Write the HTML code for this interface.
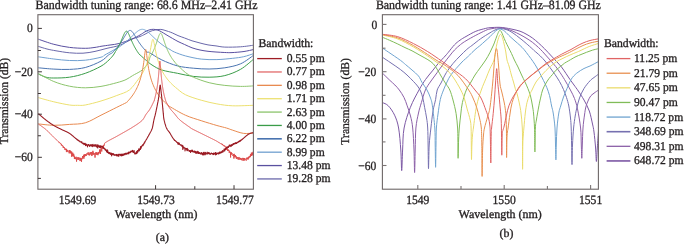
<!DOCTYPE html><html><head><meta charset="utf-8"><style>html,body{margin:0;padding:0;background:#fff;}svg{display:block;will-change:transform;}text{font-family:"Liberation Serif",serif;fill:#231f20;stroke:#231f20;stroke-width:0.32px;text-rendering:geometricPrecision;}</style></head><body>
<svg width="685" height="244" viewBox="0 0 685 244">
<rect width="685" height="244" fill="#fff"/>
<defs><clipPath id="ca"><rect x="37.90" y="14.70" width="215.50" height="174.50"/></clipPath>
<clipPath id="cb"><rect x="382.5" y="14.7" width="216.10" height="174.30"/></clipPath></defs>
<g clip-path="url(#ca)" fill="none" stroke-linejoin="round">
<path d="M38.30,46.40 C39.75,46.83 44.05,48.27 47.00,49.00 C49.95,49.73 52.23,50.17 56.00,50.80 C59.77,51.43 65.10,52.40 69.60,52.80 C74.10,53.20 78.77,53.43 83.00,53.20 C87.23,52.97 91.00,52.22 95.00,51.40 C99.00,50.58 102.90,49.32 107.00,48.30 C111.10,47.28 115.45,46.82 119.60,45.30 C123.75,43.78 128.50,40.67 131.90,39.20 C135.30,37.73 137.82,37.33 140.00,36.50 C142.18,35.67 143.33,35.03 145.00,34.20 C146.67,33.37 148.33,32.20 150.00,31.50 C151.67,30.80 153.20,30.35 155.00,30.00 C156.80,29.65 159.13,29.33 160.80,29.40 C162.47,29.47 163.72,30.05 165.00,30.40 C166.28,30.75 167.28,31.08 168.50,31.50 C169.72,31.92 170.72,32.22 172.30,32.90 C173.88,33.58 175.95,34.75 178.00,35.60 C180.05,36.45 182.27,37.13 184.60,38.00 C186.93,38.87 189.43,39.97 192.00,40.80 C194.57,41.63 197.33,42.32 200.00,43.00 C202.67,43.68 205.33,44.42 208.00,44.90 C210.67,45.38 213.20,45.53 216.00,45.90 C218.80,46.27 220.70,46.95 224.80,47.10 C228.90,47.25 235.78,47.12 240.60,46.80 C245.42,46.48 251.52,45.47 253.70,45.20" stroke="#6a68aa" stroke-width="1.00"/>
<path d="M38.30,39.20 C40.88,40.05 48.60,42.93 53.80,44.30 C59.00,45.67 64.25,46.73 69.50,47.40 C74.75,48.07 81.05,48.30 85.30,48.30 C89.55,48.30 92.38,47.73 95.00,47.40 C97.62,47.07 98.50,46.70 101.00,46.30 C103.50,45.90 106.90,45.48 110.00,45.00 C113.10,44.52 115.95,44.40 119.60,43.40 C123.25,42.40 128.50,40.40 131.90,39.00 C135.30,37.60 137.82,36.20 140.00,35.00 C142.18,33.80 143.50,32.63 145.00,31.80 C146.50,30.97 147.58,30.42 149.00,30.00 C150.42,29.58 152.00,29.27 153.50,29.30 C155.00,29.33 156.62,29.75 158.00,30.20 C159.38,30.65 160.47,31.27 161.80,32.00 C163.13,32.73 164.25,33.55 166.00,34.60 C167.75,35.65 170.30,37.15 172.30,38.30 C174.30,39.45 175.95,40.47 178.00,41.50 C180.05,42.53 182.27,43.45 184.60,44.50 C186.93,45.55 189.43,46.88 192.00,47.80 C194.57,48.72 197.33,49.42 200.00,50.00 C202.67,50.58 205.33,50.97 208.00,51.30 C210.67,51.63 213.20,51.80 216.00,52.00 C218.80,52.20 222.13,52.40 224.80,52.50 C227.47,52.60 228.80,52.77 232.00,52.60 C235.20,52.43 240.38,52.02 244.00,51.50 C247.62,50.98 252.08,49.83 253.70,49.50" stroke="#5a50a0" stroke-width="1.00"/>
<path d="M38.30,56.80 C40.88,57.17 48.60,58.38 53.80,59.00 C59.00,59.62 64.25,60.30 69.50,60.50 C74.75,60.70 80.05,60.75 85.30,60.20 C90.55,59.65 97.75,58.07 101.00,57.20 C104.25,56.33 102.97,56.03 104.80,55.00 C106.63,53.97 109.53,52.38 112.00,51.00 C114.47,49.62 118.16,47.55 119.60,46.72 C121.04,45.88 120.29,46.23 120.64,45.99 C120.98,45.74 121.32,45.50 121.65,45.25 C121.99,45.00 122.32,44.75 122.65,44.50 C122.97,44.25 123.30,44.00 123.62,43.75 C123.94,43.50 124.25,43.24 124.57,42.99 C124.88,42.74 125.19,42.48 125.50,42.23 C125.80,41.98 126.10,41.72 126.40,41.47 C126.70,41.21 126.99,40.96 127.28,40.70 C127.57,40.45 127.86,40.19 128.14,39.94 C128.43,39.68 128.71,39.43 128.98,39.18 C129.26,38.93 129.53,38.68 129.80,38.43 C130.07,38.18 130.33,37.93 130.59,37.68 C130.85,37.44 131.11,37.19 131.36,36.95 C131.61,36.71 131.86,36.47 132.10,36.24 C132.35,36.00 132.59,35.77 132.83,35.54 C133.06,35.32 133.30,35.09 133.53,34.87 C133.75,34.66 133.98,34.44 134.20,34.23 C134.42,34.02 134.64,33.82 134.85,33.62 C135.06,33.43 135.27,33.23 135.48,33.05 C135.68,32.86 135.88,32.68 136.08,32.51 C136.28,32.34 136.47,32.18 136.66,32.02 C136.84,31.86 137.03,31.71 137.21,31.57 C137.39,31.43 137.56,31.29 137.73,31.17 C137.91,31.04 138.07,30.92 138.23,30.81 C138.40,30.70 138.56,30.59 138.71,30.50 C138.86,30.40 139.01,30.31 139.16,30.23 C139.30,30.15 139.44,30.07 139.58,30.01 C139.72,29.94 139.85,29.88 139.97,29.82 C140.10,29.77 140.22,29.72 140.34,29.67 C140.46,29.63 140.57,29.59 140.68,29.56 C140.79,29.52 140.89,29.49 140.99,29.47 C141.09,29.44 141.18,29.42 141.27,29.40 C141.36,29.39 141.44,29.37 141.52,29.36 C141.60,29.35 141.67,29.34 141.74,29.33 C141.80,29.32 141.87,29.32 141.92,29.31 C141.98,29.31 142.03,29.31 142.08,29.30 C142.12,29.30 142.16,29.30 142.19,29.30 C142.22,29.30 142.25,29.30 142.27,29.30 C142.29,29.30 142.29,29.30 142.30,29.30 C142.31,29.30 142.31,29.30 142.33,29.30 C142.35,29.30 142.38,29.30 142.41,29.30 C142.44,29.30 142.48,29.30 142.52,29.30 C142.57,29.31 142.62,29.31 142.68,29.31 C142.73,29.32 142.80,29.32 142.86,29.33 C142.93,29.34 143.00,29.35 143.08,29.36 C143.16,29.37 143.24,29.39 143.33,29.40 C143.42,29.42 143.51,29.44 143.61,29.47 C143.71,29.49 143.81,29.52 143.92,29.56 C144.03,29.59 144.14,29.63 144.26,29.67 C144.38,29.72 144.50,29.77 144.63,29.82 C144.75,29.88 144.88,29.94 145.02,30.01 C145.16,30.07 145.30,30.15 145.44,30.23 C145.59,30.31 145.74,30.40 145.89,30.50 C146.04,30.59 146.20,30.70 146.37,30.81 C146.53,30.92 146.69,31.04 146.87,31.17 C147.04,31.29 147.21,31.43 147.39,31.57 C147.57,31.71 147.76,31.86 147.94,32.02 C148.13,32.18 148.32,32.34 148.52,32.51 C148.72,32.68 148.92,32.86 149.12,33.05 C149.33,33.23 149.54,33.43 149.75,33.62 C149.96,33.82 150.18,34.02 150.40,34.23 C150.62,34.44 150.85,34.66 151.07,34.87 C151.30,35.09 151.54,35.32 151.77,35.54 C152.01,35.77 152.25,36.00 152.50,36.24 C152.74,36.47 152.99,36.71 153.24,36.95 C153.49,37.19 153.75,37.44 154.01,37.68 C154.27,37.93 154.53,38.18 154.80,38.43 C155.07,38.68 155.34,38.93 155.62,39.18 C155.89,39.43 156.17,39.68 156.46,39.94 C156.74,40.19 157.03,40.45 157.32,40.70 C157.61,40.96 157.90,41.21 158.20,41.47 C158.50,41.72 158.80,41.98 159.10,42.23 C159.41,42.48 159.72,42.74 160.03,42.99 C160.35,43.24 160.66,43.50 160.98,43.75 C161.30,44.00 161.63,44.25 161.95,44.50 C162.28,44.75 162.61,45.00 162.95,45.25 C163.28,45.50 163.62,45.74 163.96,45.99 C164.31,46.23 163.99,46.13 165.00,46.72 C166.01,47.30 168.43,48.62 170.00,49.50 C171.57,50.38 171.83,50.93 174.40,52.00 C176.97,53.07 180.93,54.72 185.40,55.90 C189.87,57.08 195.95,58.48 201.20,59.10 C206.45,59.72 211.65,59.73 216.90,59.60 C222.15,59.47 228.23,58.78 232.70,58.30 C237.17,57.82 240.20,57.48 243.70,56.70 C247.20,55.92 252.03,54.12 253.70,53.60" stroke="#70a0d0" stroke-width="1.00"/>
<path d="M38.30,67.80 C40.88,68.02 48.60,68.83 53.80,69.10 C59.00,69.37 64.25,69.67 69.50,69.40 C74.75,69.13 80.05,68.88 85.30,67.50 C90.55,66.12 97.13,63.18 101.00,61.10 C104.87,59.02 106.67,56.34 108.50,55.00 C110.33,53.66 111.28,53.49 112.00,53.04 C112.72,52.58 112.55,52.51 112.82,52.24 C113.09,51.98 113.36,51.71 113.63,51.44 C113.89,51.17 114.16,50.89 114.42,50.62 C114.67,50.34 114.93,50.07 115.19,49.79 C115.44,49.51 115.69,49.23 115.94,48.94 C116.19,48.66 116.43,48.37 116.67,48.08 C116.92,47.79 117.16,47.50 117.39,47.21 C117.63,46.92 117.86,46.63 118.09,46.33 C118.32,46.04 118.55,45.74 118.78,45.44 C119.00,45.14 119.22,44.84 119.44,44.54 C119.66,44.24 119.87,43.94 120.09,43.63 C120.30,43.33 120.51,43.03 120.71,42.72 C120.92,42.42 121.12,42.11 121.32,41.81 C121.52,41.51 121.72,41.20 121.92,40.90 C122.11,40.60 122.30,40.30 122.49,40.00 C122.68,39.70 122.86,39.40 123.04,39.11 C123.22,38.81 123.40,38.52 123.58,38.23 C123.75,37.94 123.92,37.65 124.09,37.37 C124.26,37.09 124.43,36.82 124.59,36.55 C124.75,36.28 124.91,36.01 125.07,35.76 C125.22,35.50 125.38,35.25 125.52,35.01 C125.67,34.76 125.82,34.53 125.96,34.30 C126.10,34.08 126.24,33.86 126.38,33.66 C126.52,33.45 126.65,33.25 126.78,33.07 C126.91,32.88 127.03,32.71 127.15,32.54 C127.28,32.38 127.39,32.23 127.51,32.08 C127.62,31.94 127.74,31.81 127.84,31.69 C127.95,31.57 128.05,31.46 128.16,31.36 C128.26,31.26 128.35,31.17 128.45,31.09 C128.54,31.01 128.63,30.94 128.71,30.88 C128.80,30.82 128.88,30.76 128.96,30.72 C129.04,30.67 129.11,30.63 129.18,30.60 C129.25,30.56 129.32,30.54 129.38,30.51 C129.44,30.49 129.50,30.47 129.55,30.46 C129.61,30.44 129.66,30.43 129.70,30.43 C129.75,30.42 129.79,30.41 129.82,30.41 C129.86,30.41 129.89,30.40 129.91,30.40 C129.94,30.40 129.96,30.40 129.98,30.40 C129.99,30.40 129.99,30.40 130.00,30.40 C130.01,30.40 130.01,30.40 130.02,30.40 C130.04,30.40 130.06,30.40 130.08,30.40 C130.11,30.40 130.14,30.40 130.17,30.41 C130.21,30.41 130.24,30.42 130.29,30.42 C130.33,30.43 130.38,30.44 130.43,30.45 C130.48,30.47 130.54,30.48 130.60,30.50 C130.65,30.53 130.72,30.55 130.79,30.58 C130.85,30.61 130.92,30.65 131.00,30.69 C131.07,30.74 131.15,30.78 131.24,30.84 C131.32,30.90 131.40,30.97 131.49,31.04 C131.58,31.12 131.68,31.20 131.77,31.29 C131.87,31.38 131.97,31.49 132.07,31.60 C132.18,31.71 132.28,31.83 132.39,31.97 C132.51,32.10 132.62,32.24 132.74,32.40 C132.85,32.55 132.97,32.72 133.10,32.89 C133.22,33.06 133.35,33.25 133.48,33.44 C133.61,33.64 133.74,33.84 133.88,34.06 C134.02,34.27 134.16,34.49 134.30,34.72 C134.44,34.95 134.59,35.19 134.74,35.44 C134.89,35.68 135.04,35.94 135.20,36.20 C135.36,36.46 135.51,36.72 135.68,36.99 C135.84,37.26 136.00,37.54 136.17,37.82 C136.34,38.09 136.51,38.38 136.69,38.66 C136.86,38.95 137.04,39.24 137.22,39.53 C137.40,39.82 137.58,40.11 137.77,40.41 C137.96,40.70 138.15,41.00 138.34,41.30 C138.53,41.59 138.73,41.89 138.92,42.19 C139.12,42.48 139.32,42.78 139.53,43.08 C139.73,43.38 139.94,43.67 140.15,43.97 C140.36,44.26 140.57,44.56 140.79,44.85 C141.00,45.15 141.22,45.44 141.44,45.73 C141.67,46.02 141.89,46.31 142.12,46.60 C142.34,46.89 142.57,47.17 142.81,47.46 C143.04,47.74 143.28,48.03 143.51,48.31 C143.75,48.59 143.99,48.87 144.24,49.14 C144.48,49.42 144.73,49.69 144.98,49.97 C145.23,50.24 145.48,50.51 145.74,50.78 C145.99,51.05 146.25,51.31 146.51,51.58 C146.77,51.84 146.85,52.21 147.30,52.36 C147.75,52.52 146.78,51.24 149.20,52.50 C151.62,53.76 157.08,57.67 161.80,59.90 C166.52,62.13 172.25,64.52 177.50,65.90 C182.75,67.28 188.03,67.68 193.30,68.20 C198.57,68.72 203.85,69.07 209.10,69.00 C214.35,68.93 219.55,68.67 224.80,67.80 C230.05,66.93 235.78,65.90 240.60,63.80 C245.42,61.70 251.52,56.63 253.70,55.20" stroke="#4a74b0" stroke-width="1.00"/>
<path d="M38.30,74.00 C39.57,74.53 43.32,76.53 45.90,77.20 C48.48,77.87 49.87,78.00 53.80,78.00 C57.73,78.00 64.25,77.98 69.50,77.20 C74.75,76.42 80.05,75.13 85.30,73.30 C90.55,71.47 97.05,68.43 101.00,66.20 C104.95,63.97 106.93,61.77 109.00,59.90 C111.07,58.03 112.33,56.38 113.40,55.00 C114.47,53.62 114.98,52.33 115.40,51.64 C115.82,50.95 115.74,51.13 115.90,50.87 C116.07,50.61 116.23,50.35 116.39,50.09 C116.56,49.83 116.72,49.56 116.88,49.30 C117.03,49.03 117.19,48.76 117.35,48.49 C117.50,48.22 117.66,47.95 117.81,47.68 C117.96,47.41 118.11,47.13 118.26,46.85 C118.40,46.58 118.55,46.30 118.70,46.02 C118.84,45.75 118.98,45.47 119.12,45.19 C119.26,44.91 119.40,44.62 119.54,44.34 C119.68,44.06 119.81,43.78 119.95,43.49 C120.08,43.21 120.21,42.93 120.34,42.65 C120.47,42.36 120.60,42.08 120.73,41.80 C120.85,41.52 120.98,41.24 121.10,40.96 C121.22,40.68 121.34,40.40 121.46,40.13 C121.58,39.85 121.69,39.58 121.81,39.31 C121.92,39.04 122.04,38.77 122.15,38.50 C122.26,38.24 122.37,37.98 122.48,37.72 C122.58,37.47 122.69,37.22 122.79,36.97 C122.89,36.72 122.99,36.48 123.09,36.25 C123.19,36.02 123.29,35.79 123.39,35.57 C123.48,35.35 123.57,35.13 123.66,34.93 C123.76,34.72 123.85,34.53 123.93,34.34 C124.02,34.15 124.10,33.97 124.19,33.80 C124.27,33.63 124.35,33.47 124.43,33.32 C124.51,33.17 124.59,33.03 124.66,32.89 C124.73,32.76 124.81,32.64 124.88,32.52 C124.95,32.41 125.02,32.30 125.08,32.21 C125.15,32.11 125.21,32.03 125.27,31.95 C125.33,31.87 125.39,31.80 125.45,31.74 C125.51,31.67 125.56,31.62 125.61,31.57 C125.67,31.52 125.72,31.48 125.76,31.44 C125.81,31.41 125.86,31.38 125.90,31.35 C125.94,31.33 125.98,31.31 126.02,31.29 C126.06,31.27 126.09,31.26 126.13,31.25 C126.16,31.23 126.19,31.23 126.22,31.22 C126.24,31.21 126.27,31.21 126.29,31.21 C126.31,31.20 126.33,31.20 126.35,31.20 C126.36,31.20 126.38,31.20 126.38,31.20 C126.39,31.20 126.39,31.20 126.40,31.20 C126.41,31.20 126.41,31.20 126.42,31.20 C126.43,31.20 126.44,31.20 126.46,31.20 C126.48,31.20 126.50,31.21 126.52,31.21 C126.55,31.21 126.58,31.22 126.61,31.23 C126.64,31.24 126.67,31.24 126.71,31.26 C126.75,31.27 126.79,31.29 126.83,31.31 C126.88,31.34 126.92,31.36 126.97,31.40 C127.02,31.43 127.07,31.47 127.13,31.52 C127.18,31.57 127.24,31.62 127.30,31.68 C127.36,31.75 127.42,31.82 127.49,31.90 C127.55,31.98 127.62,32.07 127.69,32.17 C127.76,32.27 127.83,32.38 127.91,32.50 C127.99,32.62 128.06,32.76 128.14,32.90 C128.22,33.04 128.31,33.20 128.39,33.36 C128.48,33.53 128.57,33.71 128.66,33.89 C128.75,34.08 128.84,34.28 128.93,34.48 C129.03,34.69 129.13,34.91 129.23,35.14 C129.33,35.36 129.43,35.60 129.53,35.84 C129.64,36.09 129.74,36.34 129.85,36.60 C129.96,36.86 130.07,37.12 130.19,37.39 C130.30,37.66 130.42,37.94 130.53,38.22 C130.65,38.51 130.77,38.79 130.90,39.08 C131.02,39.37 131.14,39.67 131.27,39.96 C131.40,40.26 131.53,40.56 131.66,40.86 C131.79,41.16 131.92,41.46 132.06,41.77 C132.19,42.07 132.33,42.37 132.47,42.68 C132.61,42.98 132.76,43.29 132.90,43.59 C133.04,43.90 133.19,44.20 133.34,44.51 C133.49,44.81 133.64,45.11 133.79,45.41 C133.95,45.72 134.10,46.02 134.26,46.32 C134.41,46.62 134.57,46.91 134.73,47.21 C134.90,47.51 135.06,47.80 135.23,48.09 C135.39,48.38 135.56,48.68 135.73,48.96 C135.90,49.25 136.07,49.54 136.24,49.82 C136.42,50.11 136.59,50.39 136.77,50.67 C136.95,50.95 137.13,51.23 137.31,51.50 C137.49,51.78 137.68,52.05 137.86,52.32 C138.05,52.60 138.23,52.86 138.42,53.13 C138.61,53.40 137.87,52.86 139.00,53.92 C140.13,54.98 143.03,57.65 145.20,59.50 C147.37,61.35 149.23,63.25 152.00,65.00 C154.77,66.75 157.55,68.62 161.80,70.00 C166.05,71.38 172.25,72.23 177.50,73.30 C182.75,74.37 188.03,75.75 193.30,76.40 C198.57,77.05 203.85,77.33 209.10,77.20 C214.35,77.07 219.55,76.92 224.80,75.60 C230.05,74.28 235.78,72.05 240.60,69.30 C245.42,66.55 251.52,60.80 253.70,59.10" stroke="#3a9c48" stroke-width="1.00"/>
<path d="M38.30,73.50 C40.88,74.83 48.60,79.38 53.80,81.50 C59.00,83.62 64.25,85.15 69.50,86.20 C74.75,87.25 80.05,87.77 85.30,87.80 C90.55,87.83 95.75,87.25 101.00,86.40 C106.25,85.55 112.63,83.83 116.80,82.70 C120.97,81.57 123.37,80.78 126.00,79.60 C128.63,78.42 130.15,77.02 132.60,75.60 C135.05,74.18 138.63,72.50 140.70,71.10 C142.77,69.70 143.77,68.55 145.00,67.20 C146.23,65.85 147.27,64.67 148.10,63.00 C148.93,61.33 149.60,58.28 150.00,57.17 C150.40,56.07 150.32,56.64 150.48,56.37 C150.64,56.10 150.80,55.83 150.96,55.55 C151.11,55.28 151.27,55.00 151.42,54.72 C151.58,54.44 151.73,54.16 151.88,53.87 C152.03,53.59 152.17,53.30 152.32,53.01 C152.47,52.72 152.61,52.43 152.75,52.14 C152.90,51.84 153.04,51.54 153.18,51.24 C153.31,50.95 153.45,50.64 153.59,50.34 C153.72,50.04 153.86,49.73 153.99,49.42 C154.12,49.12 154.25,48.81 154.38,48.50 C154.51,48.18 154.64,47.87 154.76,47.56 C154.89,47.24 155.01,46.93 155.13,46.61 C155.25,46.30 155.37,45.98 155.49,45.66 C155.61,45.35 155.72,45.03 155.84,44.71 C155.95,44.39 156.07,44.08 156.18,43.76 C156.29,43.44 156.40,43.13 156.50,42.82 C156.61,42.50 156.71,42.19 156.82,41.88 C156.92,41.58 157.02,41.27 157.12,40.97 C157.22,40.67 157.32,40.37 157.41,40.08 C157.51,39.79 157.60,39.50 157.70,39.22 C157.79,38.94 157.88,38.67 157.96,38.40 C158.05,38.14 158.14,37.88 158.22,37.63 C158.31,37.38 158.39,37.14 158.47,36.91 C158.55,36.68 158.63,36.46 158.70,36.25 C158.78,36.04 158.85,35.85 158.92,35.66 C159.00,35.48 159.07,35.30 159.13,35.14 C159.20,34.98 159.27,34.83 159.33,34.69 C159.39,34.55 159.45,34.43 159.51,34.31 C159.57,34.20 159.63,34.10 159.69,34.00 C159.74,33.91 159.79,33.83 159.84,33.76 C159.89,33.68 159.94,33.62 159.99,33.57 C160.03,33.51 160.08,33.47 160.12,33.43 C160.16,33.39 160.20,33.36 160.24,33.33 C160.27,33.31 160.31,33.29 160.34,33.27 C160.37,33.25 160.40,33.24 160.42,33.23 C160.45,33.22 160.47,33.22 160.50,33.21 C160.52,33.21 160.53,33.20 160.55,33.20 C160.56,33.20 160.58,33.20 160.59,33.20 C160.59,33.20 160.59,33.20 160.60,33.20 C160.61,33.20 160.61,33.20 160.62,33.20 C160.62,33.20 160.64,33.20 160.65,33.20 C160.67,33.21 160.69,33.21 160.71,33.21 C160.74,33.22 160.76,33.22 160.79,33.24 C160.82,33.25 160.85,33.26 160.88,33.28 C160.92,33.30 160.95,33.32 160.99,33.35 C161.03,33.38 161.07,33.42 161.12,33.46 C161.16,33.51 161.21,33.56 161.26,33.62 C161.31,33.69 161.36,33.76 161.41,33.84 C161.47,33.92 161.52,34.02 161.58,34.12 C161.64,34.23 161.70,34.35 161.77,34.48 C161.83,34.61 161.90,34.75 161.97,34.91 C162.03,35.06 162.11,35.23 162.18,35.41 C162.25,35.59 162.33,35.79 162.40,35.99 C162.48,36.20 162.56,36.42 162.64,36.65 C162.72,36.88 162.81,37.13 162.89,37.38 C162.98,37.63 163.07,37.89 163.16,38.16 C163.25,38.44 163.34,38.72 163.43,39.00 C163.53,39.29 163.63,39.59 163.72,39.89 C163.82,40.19 163.92,40.50 164.03,40.81 C164.13,41.12 164.23,41.44 164.34,41.76 C164.45,42.08 164.56,42.40 164.67,42.73 C164.78,43.05 164.89,43.38 165.01,43.71 C165.12,44.04 165.24,44.37 165.36,44.70 C165.48,45.03 165.60,45.36 165.72,45.69 C165.84,46.02 165.97,46.35 166.09,46.68 C166.22,47.01 166.35,47.34 166.48,47.67 C166.61,47.99 166.74,48.32 166.88,48.64 C167.01,48.96 167.15,49.29 167.29,49.60 C167.43,49.92 167.57,50.24 167.71,50.56 C167.85,50.87 168.00,51.18 168.14,51.49 C168.29,51.80 168.43,52.11 168.58,52.42 C168.73,52.72 168.89,53.02 169.04,53.32 C169.19,53.62 169.35,53.92 169.51,54.22 C169.66,54.51 169.82,54.80 169.98,55.09 C170.14,55.38 170.31,55.67 170.47,55.95 C170.63,56.23 170.80,56.52 170.97,56.79 C171.14,57.07 171.31,57.35 171.48,57.62 C171.65,57.89 171.25,57.44 172.00,58.43 C172.75,59.43 174.67,62.09 176.00,63.60 C177.33,65.11 178.43,66.02 180.00,67.50 C181.57,68.98 183.18,70.88 185.40,72.50 C187.62,74.12 189.35,75.50 193.30,77.20 C197.25,78.90 203.85,81.33 209.10,82.70 C214.35,84.07 219.55,84.78 224.80,85.40 C230.05,86.02 235.78,86.32 240.60,86.40 C245.42,86.48 251.52,85.98 253.70,85.90" stroke="#8cc46c" stroke-width="1.00"/>
<path d="M38.30,97.60 C40.88,98.30 48.60,100.57 53.80,101.80 C59.00,103.03 65.57,104.42 69.50,105.00 C73.43,105.58 74.77,105.30 77.40,105.30 C80.03,105.30 81.37,105.72 85.30,105.00 C89.23,104.28 95.75,102.58 101.00,101.00 C106.25,99.42 112.07,97.33 116.80,95.50 C121.53,93.67 125.87,92.64 129.40,90.00 C132.93,87.36 136.45,81.55 138.00,79.69 C139.55,77.82 138.46,79.12 138.68,78.83 C138.91,78.54 139.13,78.24 139.35,77.94 C139.57,77.65 139.78,77.35 140.00,77.04 C140.21,76.74 140.43,76.43 140.64,76.11 C140.85,75.80 141.06,75.48 141.26,75.16 C141.47,74.84 141.67,74.51 141.87,74.18 C142.07,73.85 142.27,73.51 142.46,73.17 C142.66,72.83 142.85,72.49 143.04,72.14 C143.23,71.79 143.42,71.43 143.61,71.07 C143.79,70.71 143.98,70.34 144.16,69.97 C144.34,69.60 144.52,69.22 144.69,68.84 C144.87,68.46 145.04,68.07 145.21,67.68 C145.38,67.28 145.55,66.88 145.72,66.47 C145.88,66.07 146.05,65.65 146.21,65.23 C146.37,64.81 146.53,64.39 146.68,63.95 C146.84,63.52 146.99,63.08 147.14,62.63 C147.29,62.19 147.44,61.73 147.58,61.27 C147.73,60.81 147.87,60.35 148.01,59.87 C148.15,59.40 148.29,58.92 148.42,58.43 C148.56,57.94 148.69,57.45 148.82,56.95 C148.95,56.45 149.07,55.94 149.20,55.43 C149.32,54.92 149.44,54.40 149.56,53.88 C149.68,53.36 149.79,52.84 149.90,52.31 C150.02,51.78 150.12,51.25 150.23,50.73 C150.34,50.20 150.44,49.67 150.54,49.15 C150.64,48.63 150.74,48.11 150.84,47.61 C150.93,47.10 151.03,46.60 151.11,46.12 C151.20,45.64 151.29,45.16 151.37,44.72 C151.46,44.27 151.54,43.84 151.61,43.44 C151.69,43.04 151.77,42.66 151.84,42.32 C151.91,41.98 151.97,41.66 152.04,41.38 C152.10,41.10 152.17,40.86 152.22,40.64 C152.28,40.43 152.34,40.25 152.39,40.09 C152.44,39.94 152.49,39.82 152.53,39.72 C152.57,39.62 152.62,39.55 152.65,39.49 C152.69,39.43 152.72,39.40 152.75,39.37 C152.78,39.34 152.81,39.33 152.83,39.32 C152.85,39.30 152.87,39.30 152.88,39.30 C152.89,39.30 152.89,39.30 152.90,39.30 C152.91,39.30 152.91,39.30 152.93,39.30 C152.95,39.31 152.98,39.31 153.01,39.34 C153.04,39.36 153.08,39.39 153.13,39.46 C153.17,39.53 153.23,39.62 153.28,39.75 C153.34,39.89 153.40,40.05 153.47,40.28 C153.54,40.51 153.62,40.78 153.70,41.11 C153.77,41.43 153.86,41.82 153.95,42.25 C154.04,42.68 154.13,43.17 154.23,43.69 C154.33,44.21 154.44,44.79 154.55,45.38 C154.66,45.97 154.77,46.60 154.89,47.24 C155.01,47.88 155.14,48.55 155.27,49.21 C155.40,49.87 155.53,50.55 155.67,51.22 C155.81,51.89 155.95,52.57 156.10,53.23 C156.24,53.90 156.40,54.56 156.55,55.22 C156.71,55.87 156.87,56.52 157.04,57.15 C157.20,57.79 157.37,58.41 157.55,59.03 C157.72,59.64 157.90,60.25 158.08,60.84 C158.26,61.43 158.45,62.02 158.64,62.59 C158.84,63.16 159.03,63.72 159.23,64.26 C159.43,64.81 159.63,65.35 159.84,65.88 C160.05,66.41 160.26,66.92 160.48,67.43 C160.70,67.94 160.92,68.43 161.14,68.92 C161.37,69.41 161.60,69.88 161.83,70.35 C162.06,70.82 162.30,71.28 162.54,71.73 C162.78,72.19 163.03,72.63 163.27,73.07 C163.52,73.50 163.78,73.93 164.03,74.35 C164.29,74.77 164.55,75.18 164.82,75.59 C165.08,75.99 165.35,76.39 165.62,76.79 C165.90,77.18 166.17,77.56 166.45,77.94 C166.73,78.32 167.02,78.70 167.31,79.06 C167.59,79.43 167.89,79.79 168.18,80.15 C168.48,80.51 168.78,80.86 169.08,81.20 C169.38,81.55 169.69,81.89 170.00,82.23 C170.31,82.56 170.63,82.89 170.95,83.22 C171.26,83.54 171.59,83.87 171.91,84.18 C172.24,84.50 172.57,84.81 172.90,85.12 C173.23,85.43 173.57,85.73 173.91,86.04 C174.25,86.34 174.60,86.63 174.94,86.92 C175.29,87.22 174.26,86.50 176.00,87.79 C177.74,89.09 181.20,92.63 185.40,94.70 C189.60,96.77 195.95,98.67 201.20,100.20 C206.45,101.73 211.65,102.97 216.90,103.90 C222.15,104.83 226.57,105.57 232.70,105.80 C238.83,106.03 250.20,105.38 253.70,105.30" stroke="#ece070" stroke-width="1.00"/>
<path d="M38.30,123.90 C40.88,124.13 48.60,125.22 53.80,125.30 C59.00,125.38 64.25,124.82 69.50,124.40 C74.75,123.98 80.05,124.33 85.30,122.80 C90.55,121.27 95.75,117.78 101.00,115.20 C106.25,112.62 112.58,109.40 116.80,107.30 C121.02,105.20 124.57,103.54 126.30,102.62 C128.03,101.69 126.89,102.04 127.19,101.75 C127.48,101.45 127.77,101.16 128.05,100.86 C128.34,100.55 128.62,100.25 128.90,99.94 C129.18,99.63 129.46,99.32 129.73,99.00 C130.01,98.68 130.28,98.36 130.55,98.03 C130.81,97.70 131.08,97.37 131.34,97.03 C131.60,96.70 131.86,96.35 132.11,96.01 C132.37,95.66 132.62,95.31 132.87,94.95 C133.12,94.59 133.36,94.23 133.60,93.86 C133.84,93.49 134.08,93.11 134.32,92.73 C134.55,92.35 134.79,91.96 135.02,91.56 C135.24,91.17 135.47,90.77 135.69,90.36 C135.91,89.95 136.13,89.53 136.35,89.11 C136.57,88.68 136.78,88.25 136.99,87.81 C137.20,87.37 137.40,86.92 137.60,86.46 C137.81,86.01 138.01,85.54 138.20,85.06 C138.40,84.59 138.59,84.10 138.78,83.61 C138.97,83.11 139.15,82.61 139.33,82.09 C139.52,81.57 139.69,81.05 139.87,80.51 C140.04,79.97 140.22,79.41 140.38,78.85 C140.55,78.29 140.72,77.71 140.88,77.12 C141.04,76.53 141.19,75.93 141.35,75.31 C141.50,74.69 141.65,74.06 141.80,73.42 C141.94,72.77 142.09,72.11 142.23,71.43 C142.36,70.76 142.50,70.07 142.63,69.36 C142.76,68.66 142.89,67.94 143.01,67.20 C143.14,66.47 143.26,65.72 143.38,64.97 C143.49,64.21 143.60,63.44 143.71,62.67 C143.82,61.90 143.93,61.12 144.03,60.35 C144.13,59.58 144.22,58.80 144.31,58.05 C144.41,57.31 144.50,56.56 144.58,55.87 C144.66,55.17 144.74,54.50 144.82,53.89 C144.89,53.29 144.97,52.72 145.03,52.24 C145.10,51.75 145.16,51.33 145.22,50.98 C145.28,50.63 145.33,50.36 145.38,50.14 C145.43,49.92 145.47,49.78 145.51,49.67 C145.55,49.56 145.58,49.51 145.61,49.46 C145.64,49.42 145.66,49.42 145.67,49.41 C145.69,49.39 145.69,49.40 145.70,49.40 C145.71,49.40 145.71,49.39 145.73,49.41 C145.75,49.42 145.78,49.43 145.81,49.50 C145.85,49.56 145.89,49.64 145.94,49.81 C145.98,49.97 146.04,50.18 146.10,50.50 C146.16,50.82 146.22,51.21 146.29,51.70 C146.36,52.19 146.44,52.78 146.52,53.42 C146.60,54.07 146.69,54.81 146.79,55.58 C146.88,56.34 146.98,57.18 147.08,58.02 C147.18,58.85 147.29,59.73 147.41,60.59 C147.52,61.46 147.64,62.34 147.76,63.20 C147.89,64.06 148.02,64.92 148.15,65.76 C148.28,66.60 148.42,67.43 148.56,68.24 C148.71,69.05 148.86,69.84 149.01,70.61 C149.16,71.38 149.32,72.13 149.48,72.87 C149.64,73.60 149.81,74.32 149.98,75.02 C150.15,75.72 150.33,76.40 150.51,77.06 C150.69,77.72 150.87,78.37 151.06,79.00 C151.25,79.63 151.44,80.25 151.64,80.85 C151.84,81.45 152.04,82.03 152.25,82.60 C152.46,83.18 152.67,83.74 152.88,84.28 C153.10,84.83 153.32,85.36 153.54,85.88 C153.77,86.41 154.00,86.92 154.23,87.42 C154.46,87.92 154.70,88.41 154.94,88.89 C155.18,89.36 155.42,89.83 155.67,90.29 C155.92,90.76 156.18,91.21 156.43,91.65 C156.69,92.09 156.95,92.53 157.22,92.95 C157.49,93.38 157.76,93.80 158.03,94.21 C158.30,94.62 158.58,95.02 158.86,95.42 C159.15,95.82 159.43,96.21 159.72,96.59 C160.01,96.97 160.31,97.35 160.60,97.72 C160.90,98.09 161.20,98.46 161.51,98.82 C161.82,99.17 162.13,99.53 162.44,99.88 C162.75,100.22 163.07,100.57 163.39,100.90 C163.71,101.24 164.04,101.57 164.37,101.90 C164.70,102.23 165.03,102.55 165.37,102.87 C165.71,103.19 166.05,103.51 166.39,103.82 C166.74,104.13 167.09,104.43 167.44,104.73 C167.79,105.03 168.15,105.33 168.51,105.63 C168.87,105.92 166.78,104.90 169.60,106.50 C172.42,108.09 180.13,112.83 185.40,115.20 C190.67,117.57 195.95,118.98 201.20,120.70 C206.45,122.42 212.70,124.28 216.90,125.50 C221.10,126.72 223.77,127.22 226.40,128.00 C229.03,128.78 229.82,129.30 232.70,130.20 C235.58,131.10 240.20,132.95 243.70,133.40 C247.20,133.85 252.03,132.98 253.70,132.90" stroke="#e88a50" stroke-width="1.00"/>
<path d="M38.30,124.00 L38.39,124.06 L38.48,124.13 L38.58,124.20 L38.68,124.27 L38.80,124.35 L38.91,124.43 L39.04,124.51 L39.17,124.60 L39.30,124.69 L39.44,124.79 L39.58,124.88 L39.73,124.99 L39.89,125.09 L40.04,125.19 L40.20,125.30 L40.37,125.42 L40.54,125.53 L40.71,125.65 L40.88,125.77 L41.06,125.89 L41.24,126.01 L41.42,126.14 L41.61,126.26 L41.79,126.39 L41.98,126.52 L42.17,126.66 L42.36,126.79 L42.55,126.92 L42.74,127.06 L42.93,127.20 L43.13,127.34 L43.32,127.48 L43.51,127.62 L43.70,127.76 L43.90,127.91 L44.09,128.05 L44.28,128.19 L44.47,128.34 L44.65,128.48 L44.84,128.63 L45.02,128.77 L45.20,128.92 L45.38,129.06 L45.56,129.21 L45.73,129.36 L45.90,129.50 L46.04,129.62 L46.18,129.75 L46.32,129.87 L46.47,130.00 L46.61,130.12 L46.75,130.25 L46.89,130.38 L47.03,130.52 L47.18,130.65 L47.32,130.78 L47.46,130.92 L47.61,131.06 L47.75,131.20 L47.89,131.33 L48.04,131.47 L48.18,131.62 L48.32,131.76 L48.47,131.90 L48.61,132.04 L48.75,132.19 L48.90,132.33 L49.04,132.48 L49.19,132.62 L49.33,132.77 L49.48,132.92 L49.62,133.07 L49.77,133.21 L49.91,133.36 L50.05,133.51 L50.20,133.66 L50.34,133.81 L50.49,133.96 L50.63,134.11 L50.78,134.25 L50.92,134.40 L51.07,134.55 L51.21,134.70 L51.36,134.85 L51.50,135.00 L51.64,135.15 L51.79,135.29 L51.93,135.44 L52.08,135.59 L52.22,135.74 L52.37,135.88 L52.51,136.03 L52.65,136.17 L52.80,136.32 L52.94,136.46 L53.08,136.60 L53.23,136.74 L53.37,136.88 L53.51,137.02 L53.66,137.16 L53.80,137.30 L53.95,137.44 L54.10,137.59 L54.25,137.73 L54.41,137.88 L54.56,138.03 L54.72,138.17 L54.88,138.32 L55.04,138.47 L55.20,138.62 L55.36,138.77 L55.52,138.92 L55.68,139.07 L55.84,139.22 L56.01,139.37 L56.17,139.53 L56.33,139.68 L56.50,139.83 L56.66,139.98 L56.83,140.13 L56.99,140.28 L57.15,140.43 L57.32,140.58 L57.48,140.73 L57.64,140.88 L57.80,141.03 L57.96,141.18 L58.12,141.29 L58.28,141.47 L58.44,141.56 L58.60,141.69 L58.75,142.00 L58.90,142.44 L59.06,142.30 L59.21,142.29 L59.35,142.78 L59.50,142.61 L59.65,142.86 L59.79,142.89 L59.93,142.79 L60.07,143.10 L60.20,143.12 L60.33,143.41 L60.47,143.65 L60.59,143.37 L60.72,143.72 L60.84,143.93 L60.96,144.09 L61.07,143.90 L61.19,144.34 L61.29,144.30 L61.40,145.44 L61.50,144.47 L61.60,144.59 L61.85,144.97 L62.07,145.10 L62.26,145.16 L62.43,146.03 L62.57,145.90 L62.70,145.63 L62.81,146.07 L62.90,146.02 L62.99,146.12 L63.07,146.27 L63.15,147.55 L63.22,146.84 L63.30,146.57 L63.38,146.76 L63.48,146.85 L63.58,147.10 L63.70,148.04 L63.84,147.61 L64.00,147.69 L64.12,147.36 L64.25,147.58 L64.39,147.34 L64.52,148.19 L64.67,148.90 L64.81,149.35 L64.96,148.87 L65.11,149.52 L65.27,149.93 L65.43,148.63 L65.59,149.27 L65.75,149.39 L65.91,149.30 L66.08,149.13 L66.24,149.62 L66.40,151.54 L66.57,148.85 L66.73,149.69 L66.89,152.11 L67.05,150.19 L67.21,150.93 L67.37,150.82 L67.52,151.23 L67.67,151.39 L67.82,150.41 L67.96,150.19 L68.10,151.33 L68.32,151.36 L68.53,151.59 L68.74,151.50 L68.95,151.54 L69.16,153.33 L69.36,151.61 L69.56,150.15 L69.76,152.29 L69.95,150.23 L70.15,153.19 L70.33,151.05 L70.52,152.69 L70.70,151.32 L70.88,151.23 L71.06,151.72 L71.23,154.03 L71.40,152.43 L71.53,152.52 L71.66,151.66 L71.79,156.83 L71.92,153.76 L72.04,153.38 L72.16,154.69 L72.27,156.07 L72.39,153.43 L72.50,154.08 L72.61,154.61 L72.72,152.63 L72.83,155.13 L72.94,154.96 L73.05,155.72 L73.16,155.66 L73.26,154.65 L73.37,156.05 L73.48,156.31 L73.58,155.21 L73.69,153.84 L73.80,155.35 L73.96,156.40 L74.12,155.68 L74.27,155.84 L74.42,158.87 L74.57,156.77 L74.71,158.31 L74.86,157.51 L75.01,157.35 L75.16,157.27 L75.32,159.14 L75.48,157.93 L75.65,158.94 L75.82,158.25 L76.00,157.13 L76.18,156.81 L76.36,158.48 L76.55,161.57 L76.74,158.21 L76.94,157.88 L77.14,158.13 L77.35,157.55 L77.55,157.40 L77.76,159.57 L77.97,159.91 L78.18,158.15 L78.39,157.43 L78.59,157.44 L78.80,159.89 L79.00,157.76 L79.20,158.47 L79.41,158.34 L79.62,157.95 L79.84,157.74 L80.06,161.09 L80.27,158.46 L80.49,157.91 L80.70,160.36 L80.91,159.43 L81.11,159.04 L81.31,158.34 L81.50,161.77 L81.68,158.78 L81.84,159.04 L82.00,158.91 L82.21,159.02 L82.40,157.31 L82.57,156.03 L82.72,158.30 L82.86,157.94 L82.99,157.31 L83.11,156.10 L83.24,156.45 L83.36,156.70 L83.50,157.27 L83.62,156.31 L83.71,155.39 L83.80,156.15 L83.88,158.70 L83.96,155.95 L84.05,154.56 L84.15,156.52 L84.27,155.34 L84.41,155.00 L84.59,157.00 L84.80,154.48 L84.94,155.56 L85.09,155.50 L85.26,154.04 L85.43,154.81 L85.61,155.03 L85.80,156.02 L86.00,154.68 L86.21,155.71 L86.42,154.08 L86.63,154.03 L86.85,153.60 L87.07,154.14 L87.29,153.37 L87.51,154.39 L87.74,154.32 L87.96,154.45 L88.17,152.28 L88.39,153.55 L88.60,153.95 L88.80,155.14 L89.00,153.40 L89.20,154.32 L89.40,155.37 L89.60,153.52 L89.81,153.38 L90.01,152.77 L90.22,152.05 L90.42,154.03 L90.63,153.21 L90.84,153.08 L91.05,155.08 L91.25,151.97 L91.46,153.16 L91.67,152.07 L91.88,156.02 L92.08,153.20 L92.29,152.58 L92.49,152.80 L92.70,154.39 L92.91,150.82 L93.11,154.97 L93.32,153.86 L93.53,152.67 L93.75,154.02 L93.96,153.12 L94.17,153.22 L94.38,153.77 L94.60,154.30 L94.81,153.70 L95.02,157.59 L95.22,154.09 L95.43,152.46 L95.64,152.83 L95.84,154.46 L96.04,154.07 L96.23,153.24 L96.43,154.13 L96.62,152.30 L96.80,154.75 L96.97,152.85 L97.14,154.60 L97.31,154.35 L97.48,154.30 L97.64,153.45 L97.80,153.51 L97.96,155.19 L98.12,152.43 L98.27,151.96 L98.42,153.93 L98.58,152.59 L98.72,152.60 L98.87,152.25 L99.02,153.61 L99.16,152.73 L99.31,152.26 L99.45,151.96 L99.59,149.53 L99.73,151.21 L99.86,152.61 L100.00,150.02 L100.14,152.40 L100.27,151.14 L100.40,150.92 L100.53,153.91 L100.66,149.51 L100.79,150.42 L100.91,149.68 L101.04,150.59 L101.16,150.71 L101.28,149.97 L101.40,149.22 L101.52,148.47 L101.64,150.45 L101.75,151.48 L101.86,147.98 L101.98,148.62 L102.08,147.02 L102.19,147.88 L102.30,148.79 L102.40,147.63 L102.50,147.23 L102.64,148.41 L102.77,147.55 L102.89,147.36 L103.01,146.81 L103.13,147.21 L103.24,145.18 L103.35,146.09 L103.46,146.19 L103.57,146.18 L103.67,145.62 L103.77,145.46 L103.88,145.12 L103.98,145.18 L104.09,145.26 L104.20,145.20 L104.29,145.48 L104.35,144.62 L104.38,144.44 L104.39,144.68 L104.39,144.10 L104.40,143.84 L104.41,143.80 L104.44,143.80 L104.49,143.66 L104.57,143.39 L104.70,143.06 L104.88,142.88 L105.12,142.81 L105.42,142.78 L105.80,142.38 L105.90,142.22 L106.01,142.23 L106.12,142.05 L106.23,142.03 L106.35,141.92 L106.47,141.77 L106.60,141.79 L106.72,141.74 L106.85,141.65 L106.99,141.53 L107.13,141.52 L107.26,141.41 L107.41,141.33 L107.55,141.25 L107.70,141.16 L107.85,141.07 L108.01,140.98 L108.16,140.89 L108.32,140.81 L108.48,140.72 L108.65,140.63 L108.81,140.54 L108.98,140.45 L109.15,140.36 L109.33,140.27 L109.50,140.18 L109.68,140.08 L109.86,139.99 L110.04,139.89 L110.23,139.80 L110.41,139.70 L110.60,139.60 L110.79,139.50 L110.98,139.40 L111.17,139.30 L111.37,139.20 L111.56,139.10 L111.76,139.00 L111.96,138.90 L112.16,138.79 L112.36,138.69 L112.57,138.58 L112.77,138.47 L112.97,138.37 L113.18,138.26 L113.39,138.15 L113.60,138.04 L113.81,137.93 L114.02,137.82 L114.23,137.71 L114.44,137.59 L114.65,137.48 L114.86,137.37 L115.08,137.25 L115.29,137.13 L115.51,137.02 L115.72,136.90 L115.94,136.78 L116.15,136.66 L116.37,136.54 L116.58,136.42 L116.80,136.30 L116.95,136.22 L117.10,136.13 L117.25,136.05 L117.40,135.96 L117.56,135.87 L117.72,135.78 L117.88,135.70 L118.04,135.60 L118.20,135.51 L118.36,135.42 L118.53,135.33 L118.69,135.24 L118.86,135.14 L119.03,135.05 L119.20,134.95 L119.37,134.85 L119.55,134.76 L119.72,134.66 L119.90,134.56 L120.07,134.46 L120.25,134.36 L120.43,134.26 L120.61,134.16 L120.79,134.06 L120.97,133.96 L121.15,133.86 L121.33,133.75 L121.52,133.65 L121.70,133.55 L121.89,133.44 L122.07,133.34 L122.26,133.23 L122.44,133.13 L122.63,133.02 L122.82,132.92 L123.01,132.81 L123.19,132.70 L123.38,132.60 L123.57,132.49 L123.76,132.38 L123.95,132.28 L124.14,132.17 L124.33,132.06 L124.52,131.96 L124.71,131.85 L124.89,131.74 L125.08,131.63 L125.27,131.52 L125.46,131.42 L125.65,131.31 L125.84,131.20 L126.02,131.09 L126.21,130.99 L126.40,130.88 L126.58,130.77 L126.77,130.67 L126.96,130.56 L127.14,130.45 L127.32,130.35 L127.51,130.24 L127.69,130.14 L127.87,130.03 L128.05,129.92 L128.23,129.82 L128.41,129.72 L128.59,129.61 L128.77,129.51 L128.94,129.40 L129.12,129.30 L129.29,129.20 L129.47,129.10 L129.64,129.00 L129.81,128.90 L129.98,128.80 L130.14,128.70 L130.31,128.60 L130.47,128.50 L130.64,128.40 L130.80,128.30 L130.96,128.21 L131.12,128.11 L131.27,128.02 L131.43,127.92 L131.58,127.83 L131.73,127.74 L131.88,127.65 L132.03,127.55 L132.18,127.46 L132.32,127.38 L132.46,127.29 L132.60,127.20 L132.82,127.06 L133.04,126.93 L133.25,126.79 L133.47,126.66 L133.68,126.52 L133.89,126.39 L134.09,126.26 L134.30,126.13 L134.50,126.00 L134.70,125.87 L134.90,125.75 L135.09,125.62 L135.29,125.50 L135.48,125.37 L135.67,125.25 L135.86,125.13 L136.04,125.01 L136.23,124.89 L136.41,124.77 L136.59,124.65 L136.76,124.53 L136.94,124.41 L137.11,124.30 L137.29,124.18 L137.46,124.06 L137.62,123.95 L137.79,123.83 L137.96,123.72 L138.12,123.61 L138.28,123.49 L138.44,123.38 L138.60,123.27 L138.75,123.16 L138.91,123.04 L139.06,122.93 L139.21,122.82 L139.36,122.71 L139.50,122.60 L139.65,122.49 L139.79,122.38 L139.93,122.27 L140.08,122.16 L140.21,122.05 L140.35,121.94 L140.49,121.83 L140.62,121.72 L140.75,121.61 L140.89,121.50 L141.01,121.39 L141.14,121.28 L141.27,121.17 L141.40,121.06 L141.52,120.95 L141.64,120.84 L141.76,120.72 L141.88,120.61 L142.00,120.50 L142.18,120.32 L142.36,120.15 L142.52,119.97 L142.68,119.79 L142.83,119.62 L142.98,119.44 L143.12,119.27 L143.25,119.09 L143.38,118.92 L143.50,118.74 L143.62,118.57 L143.73,118.40 L143.84,118.22 L143.95,118.05 L144.05,117.88 L144.15,117.71 L144.24,117.54 L144.34,117.37 L144.43,117.20 L144.52,117.03 L144.61,116.86 L144.69,116.69 L144.78,116.53 L144.87,116.36 L144.95,116.19 L145.04,116.03 L145.13,115.86 L145.21,115.70 L145.30,115.53 L145.40,115.37 L145.49,115.21 L145.59,115.04 L145.68,114.88 L145.79,114.72 L145.89,114.56 L146.00,114.40 L146.12,114.23 L146.24,114.06 L146.36,113.89 L146.48,113.73 L146.61,113.57 L146.73,113.41 L146.85,113.25 L146.97,113.10 L147.09,112.94 L147.21,112.79 L147.33,112.64 L147.45,112.49 L147.58,112.34 L147.70,112.19 L147.82,112.04 L147.94,111.89 L148.06,111.74 L148.18,111.59 L148.30,111.43 L148.42,111.28 L148.55,111.12 L148.67,110.96 L148.79,110.80 L148.91,110.64 L149.03,110.47 L149.15,110.30 L149.27,110.13 L149.39,109.95 L149.52,109.77 L149.64,109.58 L149.76,109.39 L149.88,109.20 L150.00,109.00 L150.09,108.85 L150.19,108.69 L150.28,108.52 L150.38,108.35 L150.48,108.17 L150.58,107.99 L150.68,107.81 L150.78,107.62 L150.88,107.43 L150.98,107.23 L151.09,107.03 L151.19,106.83 L151.30,106.63 L151.40,106.42 L151.51,106.22 L151.61,106.01 L151.72,105.80 L151.82,105.59 L151.92,105.38 L152.03,105.17 L152.13,104.96 L152.23,104.76 L152.33,104.55 L152.43,104.35 L152.53,104.14 L152.63,103.94 L152.73,103.74 L152.82,103.55 L152.91,103.36 L153.00,103.17 L153.09,102.98 L153.18,102.80 L153.26,102.62 L153.34,102.45 L153.42,102.29 L153.50,102.13 L153.57,101.97 L153.64,101.82 L153.71,101.68 L153.78,101.55 L153.84,101.42 L153.90,101.30 L153.95,101.19 L154.00,101.08 L154.33,100.37 L154.37,100.21 L154.29,100.27 L154.27,100.22 L154.34,100.00 L154.40,99.79 L154.47,99.56 L154.53,99.34 L154.60,99.12 L154.66,98.89 L154.73,98.67 L154.79,98.44 L154.86,98.21 L154.92,97.98 L154.98,97.75 L155.04,97.51 L155.11,97.28 L155.17,97.04 L155.23,96.80 L155.29,96.56 L155.34,96.37 L155.39,96.17 L155.44,95.98 L155.48,95.78 L155.53,95.58 L155.58,95.38 L155.63,95.18 L155.67,94.98 L155.72,94.78 L155.77,94.58 L155.81,94.37 L155.86,94.16 L155.91,93.96 L155.95,93.75 L156.00,93.54 L156.04,93.33 L156.09,93.12 L156.13,92.91 L156.18,92.69 L156.22,92.48 L156.26,92.26 L156.31,92.04 L156.35,91.82 L156.40,91.60 L156.44,91.38 L156.48,91.16 L156.52,90.93 L156.57,90.71 L156.61,90.48 L156.65,90.25 L156.69,90.02 L156.73,89.79 L156.77,89.56 L156.82,89.32 L156.86,89.09 L156.89,88.89 L156.92,88.69 L156.96,88.49 L156.99,88.29 L157.02,88.09 L157.06,87.89 L157.09,87.69 L157.12,87.48 L157.15,87.28 L157.19,87.07 L157.22,86.86 L157.25,86.65 L157.28,86.44 L157.31,86.23 L157.34,86.02 L157.38,85.81 L157.41,85.59 L157.44,85.38 L157.47,85.16 L157.50,84.95 L157.53,84.73 L157.56,84.51 L157.59,84.29 L157.62,84.07 L157.65,83.84 L157.68,83.62 L157.71,83.39 L157.74,83.17 L157.77,82.94 L157.79,82.71 L157.82,82.51 L157.84,82.32 L157.87,82.12 L157.89,81.92 L157.92,81.72 L157.94,81.52 L157.96,81.32 L157.99,81.12 L158.01,80.91 L158.03,80.71 L158.06,80.50 L158.08,80.30 L158.10,80.09 L158.13,79.88 L158.15,79.68 L158.17,79.47 L158.19,79.26 L158.22,79.05 L158.24,78.84 L158.26,78.63 L158.28,78.41 L158.30,78.20 L158.33,77.99 L158.35,77.77 L158.37,77.56 L158.39,77.34 L158.41,77.13 L158.43,76.91 L158.45,76.69 L158.47,76.48 L158.50,76.26 L158.52,76.04 L158.54,75.82 L158.56,75.60 L158.58,75.38 L158.60,75.16 L158.62,74.94 L158.64,74.72 L158.66,74.49 L158.67,74.27 L158.69,74.05 L158.71,73.83 L158.73,73.61 L158.75,73.38 L158.77,73.16 L158.79,72.94 L158.81,72.72 L158.83,72.49 L158.84,72.27 L158.86,72.05 L158.88,71.83 L158.90,71.61 L158.91,71.38 L158.93,71.16 L158.95,70.94 L158.97,70.72 L158.98,70.51 L159.00,70.29 L159.02,70.07 L159.03,69.85 L159.05,69.64 L159.07,69.42 L159.08,69.21 L159.10,69.00 L159.12,68.79 L159.13,68.58 L159.15,68.37 L159.16,68.16 L159.18,67.96 L159.19,67.76 L159.21,67.52 L159.23,67.29 L159.25,67.06 L159.26,66.84 L159.28,66.61 L159.30,66.40 L159.31,66.18 L159.33,65.97 L159.34,65.76 L159.36,65.56 L159.38,65.36 L159.39,65.16 L159.41,64.93 L159.43,64.71 L159.44,64.49 L159.46,64.28 L159.48,64.08 L159.50,63.84 L159.52,63.61 L159.54,63.39 L159.56,63.18 L159.58,62.93 L159.61,62.69 L159.63,62.48 L159.67,62.19 L159.70,61.95 L159.73,61.76 L159.75,61.60 L159.78,61.47 L159.80,61.38 L159.82,61.31 L159.84,61.26 L159.86,61.23 L159.87,61.22 L159.88,61.21 L159.89,61.20 L159.90,61.20 L159.90,61.20 L159.90,61.20 L159.91,61.20 L159.92,61.21 L159.93,61.22 L159.94,61.24 L159.96,61.27 L159.98,61.32 L160.00,61.39 L160.03,61.49 L160.05,61.63 L160.08,61.79 L160.11,62.00 L160.14,62.26 L160.18,62.56 L160.20,62.78 L160.23,63.03 L160.25,63.31 L160.27,63.52 L160.29,63.75 L160.31,64.00 L160.34,64.25 L160.35,64.46 L160.37,64.68 L160.39,64.91 L160.41,65.14 L160.43,65.38 L160.44,65.58 L160.46,65.79 L160.47,66.01 L160.49,66.22 L160.51,66.44 L160.53,66.67 L160.54,66.86 L160.55,67.06 L160.57,67.26 L160.58,67.46 L160.60,67.66 L160.62,67.87 L160.63,68.08 L160.65,68.29 L160.66,68.50 L160.68,68.71 L160.69,68.92 L160.71,69.14 L160.73,69.36 L160.74,69.57 L160.76,69.79 L160.78,70.01 L160.80,70.23 L160.81,70.46 L160.83,70.68 L160.85,70.90 L160.86,71.13 L160.88,71.35 L160.90,71.58 L160.92,71.80 L160.94,72.03 L160.96,72.25 L160.97,72.48 L160.99,72.71 L161.01,72.93 L161.03,73.16 L161.05,73.39 L161.07,73.61 L161.09,73.84 L161.11,74.07 L161.13,74.29 L161.15,74.52 L161.17,74.74 L161.19,74.97 L161.21,75.20 L161.23,75.42 L161.25,75.64 L161.27,75.87 L161.29,76.09 L161.31,76.31 L161.33,76.54 L161.35,76.76 L161.37,76.98 L161.40,77.20 L161.42,77.42 L161.44,77.64 L161.46,77.86 L161.48,78.08 L161.50,78.29 L161.53,78.51 L161.55,78.73 L161.57,78.94 L161.59,79.16 L161.62,79.37 L161.64,79.58 L161.66,79.79 L161.69,80.00 L161.71,80.22 L161.73,80.43 L161.76,80.63 L161.78,80.84 L161.80,81.05 L161.83,81.26 L161.85,81.46 L161.88,81.67 L161.90,81.87 L161.93,82.07 L161.95,82.27 L161.98,82.48 L162.00,82.68 L162.03,82.88 L162.05,83.08 L162.08,83.27 L162.11,83.50 L162.14,83.73 L162.17,83.96 L162.20,84.19 L162.23,84.41 L162.26,84.64 L162.29,84.86 L162.32,85.08 L162.35,85.30 L162.38,85.52 L162.41,85.74 L162.45,85.96 L162.48,86.17 L162.51,86.39 L162.54,86.60 L162.57,86.81 L162.61,87.03 L162.64,87.24 L162.67,87.45 L162.71,87.65 L162.74,87.86 L162.77,88.07 L162.81,88.27 L162.84,88.48 L162.87,88.68 L162.91,88.88 L162.94,89.08 L162.98,89.28 L163.01,89.48 L163.05,89.68 L163.09,89.92 L163.13,90.15 L163.17,90.38 L163.22,90.62 L163.26,90.85 L163.30,91.08 L163.35,91.30 L163.39,91.53 L163.43,91.76 L163.48,91.98 L163.52,92.20 L163.57,92.42 L163.61,92.64 L163.66,92.86 L163.70,93.08 L163.75,93.29 L163.80,93.51 L163.84,93.72 L163.89,93.93 L163.94,94.14 L163.98,94.35 L164.03,94.56 L164.08,94.77 L164.12,94.98 L164.17,95.18 L164.22,95.38 L164.27,95.59 L164.32,95.79 L164.37,95.99 L164.42,96.19 L164.47,96.39 L164.51,96.58 L164.56,96.78 L164.61,96.97 L164.67,97.17 L164.73,97.41 L164.79,97.65 L164.86,97.88 L164.92,98.12 L164.99,98.36 L165.05,98.59 L165.12,98.82 L165.18,99.05 L165.25,99.28 L165.31,99.50 L165.38,99.73 L165.45,99.95 L165.52,100.18 L165.58,100.40 L165.65,100.62 L165.72,100.84 L165.79,101.05 L165.85,101.26 L165.91,101.48 L166.00,101.70 L166.04,101.79 L166.04,101.81 L166.07,101.88 L166.20,102.10 L166.50,102.60 L166.56,102.70 L166.63,102.82 L166.70,102.94 L166.77,103.07 L166.85,103.21 L166.93,103.35 L167.01,103.50 L167.10,103.66 L167.19,103.82 L167.28,103.99 L167.38,104.17 L167.48,104.35 L167.58,104.53 L167.68,104.71 L167.79,104.90 L167.90,105.09 L168.01,105.29 L168.12,105.48 L168.23,105.68 L168.35,105.88 L168.46,106.08 L168.58,106.28 L168.69,106.47 L168.81,106.67 L168.93,106.87 L169.05,107.06 L169.17,107.25 L169.29,107.44 L169.41,107.63 L169.53,107.81 L169.65,107.99 L169.77,108.17 L169.88,108.34 L170.00,108.50 L170.12,108.67 L170.24,108.83 L170.36,108.99 L170.48,109.15 L170.61,109.30 L170.73,109.46 L170.85,109.61 L170.98,109.76 L171.11,109.91 L171.23,110.06 L171.36,110.21 L171.49,110.36 L171.62,110.51 L171.75,110.65 L171.88,110.80 L172.01,110.95 L172.14,111.09 L172.27,111.24 L172.41,111.39 L172.54,111.53 L172.68,111.68 L172.82,111.83 L172.96,111.98 L173.10,112.14 L173.24,112.29 L173.38,112.45 L173.52,112.60 L173.66,112.76 L173.81,112.93 L173.96,113.09 L174.10,113.26 L174.25,113.43 L174.40,113.60 L174.52,113.74 L174.63,113.88 L174.75,114.01 L174.86,114.15 L174.97,114.29 L175.09,114.44 L175.20,114.58 L175.31,114.72 L175.42,114.87 L175.53,115.01 L175.64,115.16 L175.75,115.30 L175.87,115.45 L175.98,115.60 L176.09,115.74 L176.20,115.89 L176.32,116.04 L176.43,116.19 L176.55,116.35 L176.67,116.50 L176.79,116.65 L176.91,116.80 L177.03,116.96 L177.16,117.11 L177.28,117.27 L177.41,117.42 L177.54,117.58 L177.68,117.74 L177.81,117.89 L177.95,118.05 L178.10,118.21 L178.24,118.37 L178.39,118.53 L178.54,118.69 L178.70,118.85 L178.86,119.02 L179.02,119.18 L179.19,119.34 L179.36,119.51 L179.54,119.67 L179.72,119.83 L179.90,120.00 L180.03,120.11 L180.16,120.22 L180.29,120.34 L180.43,120.46 L180.57,120.57 L180.72,120.69 L180.87,120.82 L181.02,120.94 L181.17,121.06 L181.33,121.19 L181.49,121.31 L181.65,121.44 L181.82,121.57 L181.99,121.70 L182.15,121.83 L182.33,121.96 L182.50,122.09 L182.68,122.22 L182.85,122.36 L183.03,122.49 L183.21,122.62 L183.39,122.76 L183.57,122.89 L183.76,123.02 L183.94,123.16 L184.13,123.29 L184.31,123.43 L184.50,123.56 L184.68,123.69 L184.87,123.83 L185.05,123.96 L185.24,124.09 L185.42,124.22 L185.61,124.35 L185.79,124.48 L185.97,124.61 L186.15,124.74 L186.33,124.87 L186.51,124.99 L186.69,125.12 L186.87,125.24 L187.04,125.37 L187.22,125.49 L187.39,125.61 L187.56,125.73 L187.73,125.84 L187.89,125.96 L188.05,126.07 L188.21,126.18 L188.37,126.29 L188.53,126.40 L188.68,126.50 L188.82,126.61 L188.97,126.71 L189.11,126.81 L189.25,126.90 L189.38,127.00 L189.51,127.09 L189.64,127.17 L189.76,127.26 L189.88,127.34 L189.99,127.42 L190.10,127.50 L190.43,127.74 L190.69,127.93 L190.89,128.08 L191.04,128.20 L191.14,128.29 L191.22,128.36 L191.27,128.41 L191.31,128.45 L191.35,128.48 L191.40,128.52 L191.46,128.56 L191.56,128.61 L191.69,128.68 L191.88,128.77 L192.12,128.89 L192.43,129.05 L192.82,129.25 L193.30,129.50 L193.41,129.56 L193.52,129.62 L193.64,129.68 L193.77,129.74 L193.89,129.80 L194.02,129.87 L194.16,129.94 L194.29,130.01 L194.43,130.08 L194.58,130.15 L194.73,130.22 L194.88,130.30 L195.03,130.38 L195.19,130.46 L195.35,130.54 L195.51,130.62 L195.68,130.70 L195.85,130.78 L196.02,130.87 L196.20,130.96 L196.37,131.04 L196.55,131.13 L196.73,131.22 L196.92,131.31 L197.10,131.40 L197.29,131.50 L197.48,131.59 L197.67,131.68 L197.86,131.78 L198.06,131.88 L198.26,131.97 L198.45,132.07 L198.65,132.17 L198.85,132.27 L199.06,132.36 L199.26,132.46 L199.46,132.56 L199.67,132.67 L199.87,132.77 L200.08,132.87 L200.29,132.97 L200.50,133.07 L200.70,133.17 L200.91,133.28 L201.12,133.38 L201.33,133.48 L201.54,133.58 L201.75,133.68 L201.96,133.79 L202.17,133.89 L202.38,133.99 L202.58,134.09 L202.79,134.20 L203.00,134.30 L203.21,134.40 L203.41,134.50 L203.62,134.60 L203.82,134.70 L204.03,134.80 L204.23,134.90 L204.43,135.00 L204.63,135.10 L204.83,135.19 L205.03,135.29 L205.22,135.39 L205.42,135.48 L205.61,135.58 L205.80,135.67 L205.99,135.76 L206.18,135.85 L206.36,135.94 L206.54,136.03 L206.72,136.12 L206.90,136.21 L207.08,136.30 L207.25,136.38 L207.42,136.47 L207.59,136.55 L207.75,136.63 L207.92,136.71 L208.08,136.79 L208.23,136.87 L208.39,136.94 L208.54,137.02 L208.68,137.09 L208.82,137.16 L208.96,137.23 L209.10,137.30 L209.37,137.43 L209.63,137.57 L209.89,137.69 L210.13,137.81 L210.37,137.93 L210.60,138.05 L210.83,138.16 L211.04,138.26 L211.25,138.37 L211.46,138.47 L211.66,138.57 L211.85,138.66 L212.04,138.76 L212.23,138.85 L212.41,138.94 L212.58,139.02 L212.76,139.11 L212.93,139.19 L213.09,139.27 L213.25,139.36 L213.41,139.44 L213.57,139.51 L213.73,139.59 L213.88,139.67 L214.04,139.75 L214.19,139.83 L214.34,139.90 L214.49,139.98 L214.64,140.06 L214.79,140.14 L214.94,140.22 L215.09,140.30 L215.25,140.38 L215.40,140.46 L215.56,140.55 L215.71,140.63 L215.87,140.72 L216.04,140.81 L216.20,140.90 L216.37,141.00 L216.54,141.09 L216.72,141.19 L216.90,141.32 L217.07,141.42 L217.25,141.48 L217.42,141.57 L217.60,141.74 L217.78,141.71 L217.96,141.87 L218.14,141.98 L218.33,142.11 L218.51,142.23 L218.70,142.36 L218.88,142.21 L219.07,142.45 L219.26,142.82 L219.45,142.85 L219.64,143.09 L219.83,143.13 L220.01,143.07 L220.20,143.18 L220.39,143.36 L220.58,143.60 L220.77,143.61 L220.95,143.51 L221.14,143.71 L221.32,143.72 L221.50,143.92 L221.69,143.68 L221.87,144.05 L222.04,143.98 L222.22,144.98 L222.40,144.20 L222.57,144.61 L222.74,144.37 L222.91,145.23 L223.07,145.44 L223.23,145.27 L223.39,145.46 L223.55,145.50 L223.70,145.47 L223.85,145.26 L224.00,146.17 L224.14,145.74 L224.28,145.52 L224.42,146.06 L224.55,146.37 L224.68,146.24 L224.80,146.54 L225.02,146.49 L225.23,146.30 L225.41,146.50 L225.59,147.02 L225.75,146.84 L225.90,147.76 L226.03,147.47 L226.16,147.74 L226.28,147.30 L226.39,148.27 L226.50,148.75 L226.60,149.55 L226.70,147.67 L226.80,149.13 L226.90,148.76 L227.00,149.00 L227.10,149.34 L227.20,148.53 L227.32,149.11 L227.43,150.06 L227.56,150.61 L227.70,149.67 L227.84,150.26 L228.00,150.25 L228.12,149.41 L228.25,150.36 L228.38,150.76 L228.51,150.10 L228.64,150.95 L228.78,150.68 L228.92,150.15 L229.07,150.90 L229.21,152.73 L229.36,152.04 L229.51,151.45 L229.66,151.06 L229.81,151.24 L229.96,152.62 L230.11,152.17 L230.27,152.29 L230.42,152.64 L230.57,157.46 L230.73,153.04 L230.88,152.47 L231.03,152.42 L231.18,154.07 L231.33,152.50 L231.48,154.42 L231.62,153.68 L231.77,153.16 L231.91,153.93 L232.05,153.43 L232.19,154.56 L232.32,154.74 L232.45,154.94 L232.58,155.47 L232.70,155.31 L232.90,155.30 L233.08,154.87 L233.26,155.49 L233.43,154.24 L233.59,155.52 L233.75,155.18 L233.91,158.59 L234.06,155.27 L234.21,153.85 L234.36,156.13 L234.50,156.27 L234.65,156.25 L234.80,156.26 L234.96,157.08 L235.12,155.26 L235.28,157.09 L235.45,155.17 L235.62,156.63 L235.81,157.20 L236.00,155.96 L236.17,157.25 L236.34,158.59 L236.51,157.14 L236.69,157.66 L236.88,158.81 L237.06,158.50 L237.25,157.50 L237.44,158.37 L237.64,157.91 L237.83,157.04 L238.03,157.71 L238.23,159.75 L238.43,158.17 L238.63,158.62 L238.83,157.74 L239.03,156.98 L239.23,157.76 L239.43,158.72 L239.63,158.68 L239.83,159.78 L240.03,158.21 L240.22,158.65 L240.41,157.93 L240.60,159.36 L240.81,158.90 L241.01,158.05 L241.22,159.65 L241.42,158.87 L241.63,160.10 L241.84,160.27 L242.05,159.38 L242.25,158.34 L242.46,158.58 L242.66,158.64 L242.87,157.86 L243.07,160.84 L243.27,159.18 L243.47,158.24 L243.67,159.70 L243.87,158.37 L244.07,159.13 L244.26,160.55 L244.45,159.72 L244.63,158.08 L244.82,158.41 L245.00,159.60 L245.21,159.35 L245.41,158.90 L245.61,159.25 L245.80,159.08 L246.00,159.70 L246.19,160.61 L246.38,159.62 L246.56,159.36 L246.75,158.03 L246.93,158.58 L247.11,157.42 L247.29,158.54 L247.46,157.90 L247.64,158.85 L247.81,158.11 L247.98,159.65 L248.16,158.55 L248.33,158.26 L248.50,158.48 L248.64,157.13 L248.78,158.29 L248.92,156.65 L249.06,157.17 L249.20,157.37 L249.34,156.43 L249.48,156.09 L249.61,156.53 L249.75,156.63 L249.88,157.25 L250.02,156.31 L250.15,155.87 L250.28,156.96 L250.41,154.39 L250.54,154.56 L250.66,154.90 L250.79,154.42 L250.91,155.98 L251.03,154.68 L251.15,155.67 L251.27,153.34 L251.39,152.63 L251.50,153.39 L251.67,155.65 L251.85,153.38 L252.03,153.15 L252.20,154.96 L252.37,152.90 L252.54,152.90 L252.71,154.25 L252.87,152.62 L253.02,151.85 L253.16,152.98 L253.29,155.96 L253.41,152.08 L253.52,151.21 L253.62,152.30 L253.70,152.68" stroke="#dc4c4c" stroke-width="1.00"/>
<path d="M38.30,113.60 L38.39,113.67 L38.48,113.76 L38.59,113.84 L38.69,113.94 L38.81,114.04 L38.93,114.14 L39.06,114.25 L39.19,114.36 L39.33,114.48 L39.47,114.61 L39.62,114.74 L39.77,114.87 L39.93,115.01 L40.09,115.15 L40.26,115.29 L40.43,115.44 L40.60,115.59 L40.78,115.74 L40.96,115.90 L41.14,116.05 L41.32,116.21 L41.51,116.38 L41.70,116.54 L41.89,116.70 L42.08,116.87 L42.28,117.03 L42.47,117.20 L42.67,117.36 L42.87,117.53 L43.06,117.70 L43.26,117.86 L43.46,118.03 L43.65,118.19 L43.85,118.35 L44.04,118.52 L44.24,118.68 L44.43,118.83 L44.62,118.99 L44.81,119.14 L45.00,119.29 L45.19,119.44 L45.37,119.59 L45.55,119.73 L45.73,119.87 L45.90,120.00 L46.08,120.14 L46.26,120.28 L46.44,120.41 L46.62,120.55 L46.81,120.69 L46.99,120.83 L47.17,120.96 L47.35,121.10 L47.54,121.24 L47.72,121.37 L47.90,121.51 L48.09,121.64 L48.27,121.78 L48.45,121.91 L48.64,122.04 L48.82,122.18 L49.01,122.31 L49.19,122.44 L49.38,122.57 L49.56,122.70 L49.75,122.84 L49.93,122.96 L50.11,123.09 L50.30,123.22 L50.48,123.35 L50.67,123.48 L50.85,123.60 L51.04,123.73 L51.22,123.85 L51.41,123.98 L51.59,124.10 L51.78,124.22 L51.96,124.34 L52.15,124.46 L52.33,124.58 L52.52,124.70 L52.70,124.82 L52.88,124.93 L53.07,125.05 L53.25,125.16 L53.43,125.28 L53.62,125.39 L53.80,125.50 L54.00,125.62 L54.20,125.74 L54.40,125.86 L54.60,125.97 L54.80,126.09 L55.00,126.20 L55.20,126.31 L55.40,126.42 L55.60,126.53 L55.80,126.63 L56.00,126.74 L56.20,126.84 L56.40,126.95 L56.60,127.05 L56.80,127.15 L57.00,127.25 L57.20,127.35 L57.40,127.45 L57.60,127.55 L57.80,127.65 L58.00,127.75 L58.20,127.84 L58.40,127.94 L58.60,128.04 L58.80,128.13 L59.00,128.23 L59.20,128.33 L59.40,128.42 L59.60,128.52 L59.80,128.61 L60.00,128.71 L60.20,128.81 L60.40,128.91 L60.60,129.00 L60.80,129.10 L61.00,129.20 L61.20,129.30 L61.40,129.40 L61.60,129.50 L61.80,129.60 L61.99,129.69 L62.19,129.79 L62.39,129.88 L62.58,129.98 L62.78,130.07 L62.98,130.16 L63.17,130.25 L63.37,130.34 L63.57,130.43 L63.77,130.51 L63.96,130.60 L64.16,130.69 L64.36,130.78 L64.56,130.86 L64.75,130.95 L64.95,131.04 L65.15,131.13 L65.35,131.22 L65.54,131.31 L65.74,131.40 L65.94,131.49 L66.14,131.58 L66.34,131.67 L66.53,131.77 L66.73,131.86 L66.93,131.96 L67.13,132.06 L67.32,132.16 L67.52,132.26 L67.72,132.36 L67.92,132.47 L68.12,132.58 L68.31,132.69 L68.51,132.80 L68.71,132.91 L68.91,133.03 L69.10,133.15 L69.30,133.27 L69.50,133.40 L69.68,133.51 L69.85,133.63 L70.03,133.75 L70.20,133.88 L70.38,134.00 L70.55,134.13 L70.73,134.26 L70.90,134.40 L71.08,134.53 L71.26,134.67 L71.43,134.81 L71.61,134.95 L71.78,135.09 L71.96,135.24 L72.13,135.38 L72.31,135.53 L72.48,135.68 L72.66,135.82 L72.84,135.97 L73.01,136.12 L73.19,136.27 L73.36,136.42 L73.54,136.58 L73.71,136.73 L73.89,136.88 L74.06,137.03 L74.24,137.18 L74.42,137.33 L74.59,137.48 L74.77,137.63 L74.94,137.78 L75.12,137.93 L75.29,138.07 L75.47,138.23 L75.64,138.40 L75.82,138.58 L76.00,138.66 L76.17,138.79 L76.35,138.95 L76.52,139.09 L76.70,139.12 L76.87,139.61 L77.05,139.44 L77.22,139.64 L77.40,139.73 L77.59,139.76 L77.79,139.85 L77.98,140.49 L78.17,140.17 L78.36,140.22 L78.56,140.37 L78.75,140.68 L78.94,140.78 L79.13,141.17 L79.33,141.02 L79.52,140.99 L79.71,140.97 L79.90,141.63 L80.10,141.91 L80.29,141.78 L80.48,141.98 L80.68,141.78 L80.87,141.80 L81.06,142.04 L81.25,141.88 L81.45,142.51 L81.64,141.96 L81.83,141.86 L82.02,143.24 L82.22,143.23 L82.41,143.10 L82.60,143.21 L82.80,143.24 L82.99,143.70 L83.18,142.99 L83.37,143.69 L83.57,143.84 L83.76,143.49 L83.95,144.58 L84.14,143.24 L84.34,144.04 L84.53,144.39 L84.72,144.17 L84.91,144.29 L85.11,143.34 L85.30,143.96 L85.52,145.64 L85.74,144.09 L85.96,145.19 L86.18,144.10 L86.40,145.26 L86.62,145.19 L86.84,144.91 L87.06,145.72 L87.28,145.05 L87.50,146.89 L87.72,144.79 L87.94,144.85 L88.16,144.89 L88.38,145.27 L88.60,144.55 L88.82,145.24 L89.04,144.93 L89.26,145.49 L89.48,146.38 L89.70,145.37 L89.92,145.10 L90.14,145.19 L90.35,145.74 L90.57,144.67 L90.79,145.69 L91.01,146.03 L91.23,145.12 L91.45,145.62 L91.67,145.88 L91.89,144.62 L92.11,145.46 L92.33,146.64 L92.55,145.34 L92.76,145.83 L92.98,144.33 L93.20,145.89 L93.43,145.29 L93.66,145.85 L93.89,145.81 L94.12,146.34 L94.36,144.91 L94.60,145.81 L94.84,145.12 L95.08,144.79 L95.33,145.48 L95.57,145.90 L95.81,146.35 L96.06,144.55 L96.30,146.79 L96.55,145.71 L96.79,146.73 L97.03,147.05 L97.27,146.83 L97.51,144.78 L97.75,148.06 L97.98,146.14 L98.22,145.00 L98.44,146.09 L98.67,146.51 L98.89,146.04 L99.11,146.46 L99.32,147.18 L99.53,147.31 L99.74,147.42 L99.93,145.54 L100.13,146.01 L100.32,145.97 L100.50,148.02 L100.67,146.74 L100.84,146.81 L101.00,145.93 L101.34,147.03 L101.65,146.26 L101.91,146.95 L102.14,146.70 L102.35,147.00 L102.54,146.51 L102.71,147.24 L102.87,146.64 L103.03,147.69 L103.19,147.30 L103.36,147.05 L103.54,148.53 L103.73,147.56 L103.95,147.98 L104.20,148.90 L104.34,148.49 L104.48,148.64 L104.62,148.56 L104.76,148.89 L104.91,149.07 L105.05,148.77 L105.19,149.83 L105.34,150.17 L105.49,149.97 L105.64,149.44 L105.79,149.93 L105.94,149.66 L106.10,149.93 L106.26,150.60 L106.42,151.16 L106.58,151.90 L106.75,150.35 L106.92,150.53 L107.10,151.51 L107.28,149.91 L107.46,152.42 L107.65,151.89 L107.85,150.75 L108.05,152.53 L108.25,152.84 L108.46,153.24 L108.68,152.54 L108.90,152.60 L109.07,153.76 L109.25,153.25 L109.43,153.70 L109.62,153.39 L109.81,152.46 L110.00,153.16 L110.20,153.07 L110.40,153.47 L110.60,154.49 L110.80,153.55 L111.01,153.11 L111.23,154.37 L111.44,154.84 L111.66,155.89 L111.87,153.38 L112.09,153.68 L112.31,154.65 L112.54,154.55 L112.76,154.27 L112.99,153.58 L113.21,154.61 L113.44,154.12 L113.67,153.86 L113.90,154.72 L114.12,155.16 L114.35,154.78 L114.58,155.35 L114.81,155.02 L115.03,154.45 L115.26,154.98 L115.48,154.94 L115.71,155.15 L115.93,155.37 L116.15,154.60 L116.37,155.81 L116.59,155.26 L116.80,154.43 L117.02,155.88 L117.24,156.01 L117.46,155.16 L117.68,154.95 L117.90,155.61 L118.12,154.42 L118.34,154.18 L118.56,154.18 L118.77,156.33 L118.99,154.81 L119.21,154.79 L119.43,154.29 L119.65,154.26 L119.87,154.25 L120.09,154.79 L120.31,155.21 L120.53,154.21 L120.75,155.57 L120.97,154.45 L121.19,155.63 L121.41,155.42 L121.63,154.17 L121.85,156.03 L122.07,154.69 L122.29,154.02 L122.51,155.46 L122.72,154.96 L122.94,154.48 L123.16,155.41 L123.38,155.12 L123.60,154.34 L123.82,154.02 L124.04,153.49 L124.26,154.58 L124.48,154.40 L124.70,154.71 L124.91,154.82 L125.12,153.69 L125.34,153.27 L125.56,153.34 L125.78,153.81 L126.00,154.07 L126.22,153.47 L126.45,154.21 L126.67,153.58 L126.90,153.00 L127.13,153.44 L127.36,153.38 L127.59,153.80 L127.82,153.27 L128.04,152.79 L128.27,153.42 L128.50,152.10 L128.73,153.84 L128.95,152.45 L129.17,152.23 L129.39,152.51 L129.61,152.13 L129.83,151.98 L130.04,152.82 L130.25,152.67 L130.46,151.58 L130.66,152.14 L130.86,151.10 L131.06,151.18 L131.25,151.62 L131.44,151.38 L131.62,151.62 L131.80,151.02 L131.97,151.33 L132.14,151.58 L132.30,151.34 L132.45,150.30 L132.60,151.95 L132.92,150.73 L133.20,151.08 L133.43,152.48 L133.64,151.78 L133.82,151.99 L133.97,151.66 L134.12,150.50 L134.25,152.02 L134.38,153.13 L134.51,152.88 L134.66,153.18 L134.81,153.23 L134.99,154.28 L135.19,153.38 L135.43,153.39 L135.70,153.34 L135.81,153.16 L135.93,153.56 L136.06,152.18 L136.18,152.15 L136.32,152.50 L136.45,152.22 L136.59,153.76 L136.73,151.46 L136.88,151.28 L137.03,151.94 L137.18,152.34 L137.33,152.99 L137.49,150.56 L137.65,151.79 L137.81,152.01 L137.97,151.87 L138.13,150.31 L138.30,150.58 L138.46,150.65 L138.63,149.65 L138.79,148.81 L138.96,149.86 L139.13,150.86 L139.29,149.54 L139.46,150.43 L139.62,149.29 L139.79,149.10 L139.95,148.75 L140.11,148.53 L140.27,147.89 L140.43,149.37 L140.59,146.44 L140.74,147.94 L140.90,147.01 L141.05,147.28 L141.19,148.32 L141.34,146.39 L141.48,146.29 L141.61,146.69 L141.75,146.34 L141.88,146.30 L142.00,145.85 L142.16,145.47 L142.31,145.25 L142.46,145.39 L142.61,145.36 L142.75,144.70 L142.89,144.51 L143.03,145.72 L143.16,144.53 L143.29,144.71 L143.42,144.34 L143.55,144.23 L143.67,143.80 L143.79,143.64 L143.91,143.97 L144.03,142.74 L144.14,143.28 L144.26,142.70 L144.37,142.64 L144.49,142.38 L144.60,142.09 L144.71,142.84 L144.83,141.52 L144.94,142.25 L145.05,141.61 L145.17,141.57 L145.28,141.11 L145.40,141.01 L145.52,140.90 L145.63,140.54 L145.75,140.57 L145.88,140.23 L146.00,140.04 L146.11,139.83 L146.22,139.62 L146.34,139.61 L146.45,139.22 L146.57,139.24 L146.69,138.86 L146.80,138.79 L146.92,138.51 L147.04,138.29 L147.16,138.06 L147.28,137.87 L147.40,137.67 L147.52,137.46 L147.63,137.26 L147.75,137.05 L147.87,136.85 L147.99,136.64 L148.11,136.44 L148.22,136.23 L148.34,136.03 L148.45,135.83 L148.57,135.62 L148.68,135.42 L148.79,135.22 L148.90,135.02 L149.01,134.83 L149.12,134.63 L149.23,134.44 L149.33,134.25 L149.43,134.06 L149.53,133.88 L149.63,133.70 L149.73,133.52 L149.82,133.34 L149.91,133.17 L150.00,133.00 L150.12,132.77 L150.24,132.54 L150.36,132.33 L150.47,132.12 L150.58,131.92 L150.69,131.73 L150.79,131.54 L150.89,131.36 L150.98,131.18 L151.08,131.00 L151.17,130.82 L151.26,130.65 L151.34,130.47 L151.43,130.30 L151.51,130.12 L151.59,129.94 L151.67,129.75 L151.75,129.56 L151.83,129.36 L151.91,129.16 L151.99,128.95 L152.07,128.73 L152.14,128.50 L152.22,128.25 L152.30,128.00 L152.35,127.82 L152.40,127.64 L152.45,127.45 L152.50,127.26 L152.55,127.06 L152.60,126.86 L152.65,126.65 L152.69,126.44 L152.74,126.23 L152.78,126.01 L152.83,125.79 L152.87,125.57 L152.91,125.35 L152.96,125.12 L153.00,124.89 L153.04,124.66 L153.08,124.43 L153.12,124.20 L153.16,123.97 L153.20,123.74 L153.25,123.51 L153.29,123.28 L153.33,123.04 L153.37,122.81 L153.41,122.58 L153.45,122.35 L153.49,122.13 L153.53,121.90 L153.57,121.68 L153.61,121.46 L153.65,121.24 L153.69,121.02 L153.73,120.81 L153.77,120.60 L153.81,120.40 L153.86,120.20 L153.90,120.00 L153.95,119.76 L154.01,119.52 L154.06,119.29 L154.12,119.06 L154.17,118.84 L154.22,118.63 L154.28,118.41 L154.33,118.21 L154.38,118.00 L154.44,117.80 L154.49,117.60 L154.54,117.40 L154.60,117.20 L154.65,117.00 L154.70,116.80 L154.76,116.60 L154.81,116.40 L154.86,116.19 L154.92,115.98 L154.97,115.77 L155.03,115.55 L155.09,115.33 L155.14,115.11 L155.20,114.87 L155.26,114.63 L155.32,114.39 L155.38,114.13 L155.44,113.87 L155.50,113.60 L155.54,113.42 L155.58,113.23 L155.63,113.03 L155.67,112.83 L155.71,112.63 L155.76,112.43 L155.81,112.22 L155.85,112.00 L155.90,111.79 L155.95,111.57 L155.99,111.34 L156.04,111.12 L156.09,110.89 L156.14,110.66 L156.19,110.43 L156.24,110.20 L156.28,109.96 L156.33,109.73 L156.38,109.49 L156.43,109.26 L156.48,109.02 L156.53,108.78 L156.58,108.54 L156.63,108.31 L156.68,108.07 L156.73,107.84 L156.77,107.60 L156.82,107.37 L156.87,107.14 L156.92,106.91 L156.96,106.68 L157.01,106.45 L157.05,106.23 L157.10,106.01 L157.14,105.79 L157.19,105.58 L157.23,105.36 L157.27,105.16 L157.31,104.95 L157.35,104.75 L157.39,104.56 L157.43,104.37 L157.46,104.18 L157.50,104.00 L157.55,103.73 L157.61,103.46 L157.66,103.21 L157.71,102.96 L157.75,102.72 L157.80,102.49 L157.84,102.27 L157.89,102.05 L157.93,101.84 L157.97,101.64 L158.01,101.43 L158.04,101.24 L158.08,101.04 L158.12,100.84 L158.15,100.65 L158.19,100.46 L158.22,100.26 L158.26,100.07 L158.29,99.87 L158.33,99.67 L158.36,99.47 L158.39,99.26 L158.43,99.05 L158.46,98.84 L158.50,98.61 L158.53,98.38 L158.56,98.15 L158.60,97.90 L158.63,97.70 L158.66,97.50 L158.68,97.29 L158.71,97.08 L158.74,96.86 L158.77,96.64 L158.80,96.42 L158.82,96.19 L158.85,95.96 L158.88,95.73 L158.91,95.49 L158.93,95.26 L158.96,95.02 L158.99,94.78 L159.01,94.54 L159.04,94.30 L159.07,94.06 L159.09,93.82 L159.12,93.58 L159.15,93.34 L159.17,93.11 L159.20,92.87 L159.22,92.64 L159.24,92.41 L159.27,92.18 L159.29,91.96 L159.31,91.74 L159.34,91.53 L159.36,91.32 L159.38,91.11 L159.40,90.91 L159.42,90.72 L159.44,90.53 L159.46,90.34 L159.48,90.17 L159.50,90.00 L159.53,89.68 L159.57,89.37 L159.59,89.07 L159.62,88.78 L159.64,88.51 L159.67,88.25 L159.69,88.00 L159.71,87.76 L159.73,87.54 L159.74,87.32 L159.76,87.12 L159.78,86.93 L159.80,86.75 L159.81,86.58 L159.83,86.42 L159.85,86.27 L159.88,86.13 L159.90,86.00 L160.06,85.39 L160.23,85.17 L160.40,85.50 L160.42,85.61 L160.45,85.73 L160.47,85.87 L160.49,86.03 L160.52,86.19 L160.54,86.38 L160.56,86.57 L160.58,86.78 L160.60,87.00 L160.63,87.22 L160.65,87.47 L160.67,87.72 L160.70,87.97 L160.72,88.24 L160.75,88.52 L160.77,88.80 L160.80,89.09 L160.83,89.39 L160.87,89.69 L160.90,90.00 L160.92,90.17 L160.94,90.34 L160.96,90.51 L160.98,90.69 L161.00,90.86 L161.02,91.03 L161.04,91.20 L161.06,91.38 L161.08,91.55 L161.10,91.73 L161.13,91.91 L161.15,92.09 L161.17,92.28 L161.19,92.46 L161.22,92.66 L161.24,92.85 L161.26,93.05 L161.29,93.25 L161.31,93.46 L161.34,93.67 L161.36,93.88 L161.39,94.10 L161.41,94.33 L161.44,94.56 L161.47,94.80 L161.50,95.05 L161.52,95.30 L161.55,95.55 L161.58,95.82 L161.61,96.09 L161.64,96.37 L161.67,96.66 L161.70,96.96 L161.73,97.26 L161.77,97.58 L161.80,97.90 L161.82,98.07 L161.83,98.24 L161.85,98.42 L161.87,98.60 L161.89,98.79 L161.91,98.98 L161.93,99.18 L161.95,99.38 L161.97,99.58 L161.99,99.79 L162.01,100.00 L162.03,100.21 L162.05,100.43 L162.07,100.65 L162.09,100.87 L162.11,101.09 L162.13,101.32 L162.15,101.55 L162.18,101.79 L162.20,102.02 L162.22,102.26 L162.24,102.50 L162.27,102.74 L162.29,102.98 L162.31,103.23 L162.33,103.47 L162.36,103.72 L162.38,103.97 L162.40,104.21 L162.43,104.46 L162.45,104.71 L162.47,104.96 L162.50,105.22 L162.52,105.47 L162.54,105.72 L162.57,105.97 L162.59,106.22 L162.61,106.47 L162.64,106.72 L162.66,106.97 L162.68,107.22 L162.71,107.47 L162.73,107.71 L162.75,107.96 L162.78,108.20 L162.80,108.45 L162.82,108.69 L162.84,108.93 L162.87,109.16 L162.89,109.40 L162.91,109.63 L162.93,109.86 L162.95,110.09 L162.98,110.31 L163.00,110.54 L163.02,110.76 L163.04,110.97 L163.06,111.19 L163.08,111.40 L163.10,111.60 L163.12,111.81 L163.14,112.00 L163.16,112.20 L163.18,112.39 L163.20,112.58 L163.21,112.76 L163.23,112.94 L163.25,113.11 L163.27,113.28 L163.28,113.44 L163.30,113.60 L163.34,113.97 L163.37,114.32 L163.40,114.64 L163.43,114.95 L163.46,115.23 L163.48,115.50 L163.51,115.76 L163.53,115.99 L163.55,116.22 L163.57,116.43 L163.58,116.64 L163.60,116.83 L163.62,117.01 L163.63,117.19 L163.65,117.37 L163.67,117.54 L163.69,117.70 L163.71,117.87 L163.73,118.04 L163.76,118.20 L163.78,118.38 L163.81,118.55 L163.84,118.73 L163.88,118.92 L163.91,119.11 L163.95,119.32 L164.00,119.53 L164.05,119.76 L164.10,120.00 L164.14,120.20 L164.19,120.40 L164.24,120.60 L164.29,120.81 L164.34,121.03 L164.39,121.24 L164.44,121.46 L164.50,121.69 L164.56,121.91 L164.61,122.14 L164.67,122.37 L164.74,122.60 L164.80,122.83 L164.86,123.06 L164.92,123.29 L164.99,123.53 L165.06,123.76 L165.12,124.00 L165.19,124.23 L165.26,124.46 L165.33,124.69 L165.40,124.92 L165.47,125.15 L165.54,125.38 L165.61,125.60 L165.69,125.82 L165.76,126.04 L165.83,126.26 L165.91,126.47 L165.98,126.67 L166.05,126.88 L166.13,127.08 L166.20,127.27 L166.28,127.46 L166.35,127.65 L166.43,127.83 L166.50,128.00 L166.61,128.24 L166.72,128.47 L166.83,128.69 L166.94,128.90 L167.05,129.09 L167.16,129.28 L167.27,129.46 L167.38,129.63 L167.49,129.79 L167.61,129.95 L167.72,130.11 L167.84,130.26 L167.96,130.41 L168.08,130.57 L168.20,130.72 L168.33,130.88 L168.46,131.04 L168.59,131.20 L168.72,131.38 L168.86,131.56 L169.00,131.74 L169.14,131.94 L169.29,132.15 L169.44,132.37 L169.60,132.60 L169.70,132.75 L169.80,132.91 L169.90,133.07 L170.00,133.24 L170.11,133.41 L170.21,133.58 L170.32,133.76 L170.43,133.94 L170.54,134.12 L170.65,134.31 L170.76,134.50 L170.87,134.69 L170.98,134.88 L171.09,135.08 L171.21,135.28 L171.33,135.47 L171.44,135.67 L171.56,135.87 L171.68,136.07 L171.80,136.28 L171.92,136.48 L172.04,136.68 L172.17,136.88 L172.29,137.08 L172.42,137.28 L172.54,137.48 L172.67,137.67 L172.80,137.87 L172.92,138.06 L173.05,138.25 L173.19,138.47 L173.32,138.66 L173.45,138.90 L173.58,139.01 L173.72,139.06 L173.85,139.24 L173.99,139.65 L174.12,139.68 L174.26,140.10 L174.40,139.82 L174.56,140.54 L174.72,140.33 L174.88,140.58 L175.04,140.62 L175.21,140.63 L175.38,140.77 L175.55,140.92 L175.73,141.24 L175.91,141.35 L176.09,141.39 L176.27,141.65 L176.45,141.90 L176.63,142.25 L176.82,141.96 L177.00,142.20 L177.18,142.25 L177.37,142.60 L177.56,142.90 L177.74,142.87 L177.93,144.12 L178.11,142.48 L178.30,143.64 L178.48,144.33 L178.66,143.00 L178.84,144.22 L179.02,143.95 L179.20,142.95 L179.38,143.82 L179.55,143.96 L179.73,144.38 L179.89,144.73 L180.06,144.54 L180.23,144.71 L180.39,144.92 L180.55,145.26 L180.70,144.83 L180.91,145.11 L181.11,144.64 L181.32,145.25 L181.51,145.45 L181.71,145.27 L181.90,146.39 L182.08,145.94 L182.27,145.28 L182.45,146.92 L182.63,146.80 L182.81,149.54 L182.98,145.88 L183.16,147.39 L183.33,148.24 L183.50,147.26 L183.67,147.51 L183.84,147.31 L184.01,147.25 L184.18,147.68 L184.35,148.04 L184.53,147.81 L184.70,148.40 L184.87,148.08 L185.05,150.98 L185.22,148.29 L185.40,149.13 L185.60,148.19 L185.80,148.83 L186.00,148.49 L186.20,149.15 L186.40,148.79 L186.60,148.68 L186.79,149.26 L186.99,150.77 L187.19,148.38 L187.39,150.66 L187.58,149.99 L187.78,149.11 L187.98,149.70 L188.18,149.53 L188.37,149.84 L188.57,150.11 L188.77,150.35 L188.98,150.48 L189.18,151.41 L189.38,150.83 L189.59,151.21 L189.79,150.50 L190.00,150.90 L190.21,151.63 L190.42,151.14 L190.63,152.56 L190.85,150.43 L191.06,151.43 L191.28,151.11 L191.49,151.15 L191.71,150.31 L191.93,149.99 L192.15,151.49 L192.37,151.77 L192.58,150.28 L192.80,151.58 L193.02,151.29 L193.25,151.78 L193.47,151.42 L193.69,151.85 L193.91,152.20 L194.13,152.17 L194.34,151.95 L194.56,151.41 L194.78,150.90 L195.00,152.51 L195.22,152.49 L195.43,152.57 L195.65,151.62 L195.87,153.54 L196.09,153.26 L196.30,152.37 L196.52,151.87 L196.74,151.72 L196.96,153.08 L197.17,152.38 L197.39,152.25 L197.61,151.45 L197.83,151.28 L198.04,153.40 L198.26,152.59 L198.48,151.99 L198.70,152.90 L198.91,153.43 L199.13,153.48 L199.35,153.12 L199.57,153.06 L199.78,152.46 L200.00,152.60 L200.23,153.68 L200.45,153.83 L200.68,153.53 L200.91,153.36 L201.14,154.24 L201.36,153.21 L201.59,152.52 L201.82,153.65 L202.05,152.99 L202.27,154.12 L202.50,154.60 L202.73,154.84 L202.95,153.41 L203.18,153.04 L203.41,152.38 L203.64,153.15 L203.86,155.07 L204.09,153.66 L204.32,153.23 L204.55,153.20 L204.77,152.40 L205.00,153.50 L205.23,154.81 L205.45,153.58 L205.68,152.99 L205.91,152.37 L206.14,152.83 L206.36,153.21 L206.59,153.34 L206.82,154.22 L207.05,153.52 L207.27,153.40 L207.50,153.43 L207.73,152.17 L207.95,153.87 L208.18,153.19 L208.41,152.96 L208.64,152.93 L208.86,152.52 L209.09,153.77 L209.32,152.76 L209.55,153.92 L209.77,153.77 L210.00,154.35 L210.23,153.69 L210.46,153.71 L210.69,154.17 L210.92,153.88 L211.16,153.06 L211.39,153.00 L211.63,153.20 L211.86,153.36 L212.09,153.80 L212.33,153.52 L212.56,153.90 L212.79,153.56 L213.03,154.69 L213.26,153.88 L213.48,154.00 L213.71,152.95 L213.93,154.40 L214.15,154.17 L214.37,153.53 L214.58,153.67 L214.79,153.50 L215.00,153.09 L215.25,152.51 L215.49,154.84 L215.74,152.68 L215.98,153.90 L216.21,153.14 L216.44,153.40 L216.67,154.58 L216.90,153.14 L217.12,153.47 L217.35,153.38 L217.56,153.46 L217.78,152.99 L217.99,153.51 L218.20,152.89 L218.40,153.41 L218.60,154.02 L218.80,153.00 L219.00,152.93 L219.25,153.22 L219.48,152.23 L219.71,152.02 L219.94,153.58 L220.15,153.18 L220.37,152.80 L220.57,152.14 L220.78,152.60 L220.98,151.86 L221.19,152.60 L221.39,152.03 L221.59,151.83 L221.79,152.57 L222.00,151.32 L222.17,151.01 L222.34,152.13 L222.50,150.53 L222.66,151.78 L222.83,151.09 L222.99,152.03 L223.15,151.30 L223.31,151.26 L223.47,151.02 L223.63,151.01 L223.79,150.40 L223.95,150.03 L224.12,148.94 L224.28,151.01 L224.45,149.47 L224.63,149.79 L224.80,150.92 L224.97,149.89 L225.13,149.00 L225.29,148.48 L225.46,149.42 L225.62,149.39 L225.78,149.16 L225.95,148.21 L226.11,148.05 L226.28,148.44 L226.45,148.25 L226.63,147.14 L226.81,147.46 L226.99,147.23 L227.18,148.03 L227.38,147.75 L227.58,147.00 L227.78,146.84 L228.00,146.59 L228.16,146.50 L228.33,147.12 L228.49,147.42 L228.66,146.60 L228.83,146.58 L228.99,146.65 L229.16,145.01 L229.34,145.58 L229.51,145.78 L229.69,145.33 L229.87,145.11 L230.06,146.14 L230.25,145.57 L230.44,145.60 L230.64,145.21 L230.84,145.75 L231.05,146.58 L231.26,144.48 L231.49,145.39 L231.71,145.03 L231.95,145.55 L232.19,144.82 L232.44,145.33 L232.70,144.92 L232.86,144.86 L233.02,143.70 L233.19,144.26 L233.36,143.71 L233.53,144.46 L233.71,143.58 L233.89,143.89 L234.08,143.93 L234.26,143.34 L234.45,143.36 L234.64,143.69 L234.83,144.00 L235.03,143.32 L235.23,143.10 L235.43,143.52 L235.63,142.87 L235.83,142.69 L236.04,143.45 L236.24,142.99 L236.45,143.07 L236.66,143.43 L236.87,142.92 L237.08,142.26 L237.29,142.43 L237.50,142.36 L237.71,142.44 L237.92,142.48 L238.13,142.17 L238.34,141.56 L238.55,142.02 L238.76,141.30 L238.97,141.35 L239.18,141.08 L239.38,141.44 L239.59,140.93 L239.80,141.66 L240.00,141.05 L240.20,140.53 L240.40,140.64 L240.60,140.83 L240.78,140.40 L240.95,140.11 L241.13,139.90 L241.31,140.06 L241.49,139.87 L241.67,139.91 L241.86,139.63 L242.04,139.33 L242.22,139.54 L242.41,139.19 L242.59,139.01 L242.78,138.81 L242.96,138.80 L243.15,138.50 L243.33,138.40 L243.52,138.23 L243.70,138.09 L243.89,137.93 L244.07,137.77 L244.26,137.61 L244.44,137.45 L244.63,137.29 L244.81,137.13 L244.99,136.97 L245.17,136.81 L245.35,136.65 L245.53,136.50 L245.71,136.34 L245.89,136.19 L246.07,136.04 L246.24,135.89 L246.41,135.75 L246.59,135.61 L246.76,135.47 L246.93,135.33 L247.09,135.20 L247.26,135.07 L247.42,134.94 L247.58,134.82 L247.74,134.71 L247.90,134.60 L248.05,134.49 L248.20,134.39 L248.35,134.29 L248.50,134.20 L248.77,134.04 L249.04,133.90 L249.31,133.76 L249.58,133.64 L249.85,133.53 L250.11,133.43 L250.37,133.34 L250.63,133.26 L250.88,133.19 L251.12,133.12 L251.36,133.06 L251.59,133.01 L251.82,132.96 L252.04,132.92 L252.25,132.88 L252.45,132.84 L252.65,132.81 L252.83,132.78 L253.00,132.75 L253.17,132.72 L253.32,132.69 L253.46,132.66 L253.59,132.63 L253.70,132.60" stroke="#9a1a22" stroke-width="1.10"/>
</g>
<g clip-path="url(#cb)" fill="none" stroke-linejoin="round">
<path d="M382.50,102.60 C383.47,103.13 386.28,103.70 388.30,105.80 C390.32,107.90 392.88,111.50 394.60,115.20 C396.32,118.90 397.57,122.20 398.60,128.00 C399.63,133.80 400.28,142.90 400.80,150.00 C401.32,157.10 401.40,170.60 401.70,170.60 C402.00,170.60 402.20,157.10 402.60,150.00 C403.00,142.90 402.80,135.12 404.10,128.00 C405.40,120.88 407.92,113.63 410.40,107.30 C412.88,100.97 416.48,94.63 419.00,90.00 C421.52,85.37 423.27,82.68 425.50,79.50 C427.73,76.32 430.23,73.62 432.40,70.90 C434.57,68.18 436.37,65.68 438.50,63.20 C440.63,60.72 443.58,57.78 445.20,56.00 C446.82,54.22 446.65,54.37 448.20,52.50 C449.75,50.63 452.53,46.85 454.50,44.80 C456.47,42.75 458.08,41.58 460.00,40.20 C461.92,38.82 463.37,37.98 466.00,36.50 C468.63,35.02 472.52,32.65 475.80,31.30 C479.08,29.95 483.33,29.00 485.70,28.40 C488.07,27.80 487.78,27.88 490.00,27.70 C492.22,27.52 496.47,27.27 499.00,27.30 C501.53,27.33 503.03,27.58 505.20,27.90 C507.37,28.22 509.53,28.65 512.00,29.20 C514.47,29.75 517.67,30.40 520.00,31.20 C522.33,32.00 523.95,32.88 526.00,34.00 C528.05,35.12 530.22,36.40 532.30,37.90 C534.38,39.40 536.45,41.18 538.50,43.00 C540.55,44.82 542.45,46.63 544.60,48.80 C546.75,50.97 549.42,53.88 551.40,56.00 C553.38,58.12 554.82,59.67 556.50,61.50 C558.18,63.33 559.92,65.00 561.50,67.00 C563.08,69.00 564.58,71.42 566.00,73.50 C567.42,75.58 568.67,77.58 570.00,79.50 C571.33,81.42 572.62,83.08 574.00,85.00 C575.38,86.92 576.63,88.50 578.30,91.00 C579.97,93.50 582.17,96.67 584.00,100.00 C585.83,103.33 587.88,107.00 589.30,111.00 C590.72,115.00 591.72,120.50 592.50,124.00 C593.28,127.50 593.48,128.00 594.00,132.00 C594.52,136.00 595.20,143.08 595.60,148.00 C596.00,152.92 596.12,161.50 596.40,161.50 C596.68,161.50 596.93,153.25 597.30,148.00 C597.67,142.75 598.38,133.00 598.60,130.00" stroke="#7c58a4" stroke-width="1.00"/>
<path d="M382.50,73.20 C383.73,74.40 387.83,78.43 389.90,80.40 C391.97,82.37 393.33,83.40 394.90,85.00 C396.47,86.60 397.78,87.92 399.30,90.00 C400.82,92.08 402.68,94.87 404.00,97.50 C405.32,100.13 406.12,102.72 407.20,105.80 C408.28,108.88 409.58,112.30 410.50,116.00 C411.42,119.70 412.12,122.33 412.70,128.00 C413.28,133.67 413.68,142.58 414.00,150.00 C414.32,157.42 414.40,172.50 414.60,172.50 C414.80,172.50 414.98,157.42 415.20,150.00 C415.42,142.58 415.35,134.17 415.90,128.00 C416.45,121.83 417.58,117.23 418.50,113.00 C419.42,108.77 420.25,106.43 421.40,102.60 C422.55,98.77 423.80,93.60 425.40,90.00 C427.00,86.40 429.03,83.92 431.00,81.00 C432.97,78.08 435.15,75.33 437.20,72.50 C439.25,69.67 441.25,66.75 443.30,64.00 C445.35,61.25 447.63,58.33 449.50,56.00 C451.37,53.67 452.65,51.92 454.50,50.00 C456.35,48.08 458.68,46.03 460.60,44.50 C462.52,42.97 463.47,42.33 466.00,40.80 C468.53,39.27 472.52,37.03 475.80,35.30 C479.08,33.57 483.33,31.45 485.70,30.40 C488.07,29.35 487.78,29.43 490.00,29.00 C492.22,28.57 496.33,27.83 499.00,27.80 C501.67,27.77 503.67,28.23 506.00,28.80 C508.33,29.37 510.67,30.23 513.00,31.20 C515.33,32.17 517.83,33.47 520.00,34.60 C522.17,35.73 523.95,36.73 526.00,38.00 C528.05,39.27 530.22,40.62 532.30,42.20 C534.38,43.78 536.80,45.95 538.50,47.50 C540.20,49.05 541.17,50.08 542.50,51.50 C543.83,52.92 545.08,54.42 546.50,56.00 C547.92,57.58 549.47,59.25 551.00,61.00 C552.53,62.75 554.20,64.58 555.70,66.50 C557.20,68.42 558.53,70.33 560.00,72.50 C561.47,74.67 562.77,76.58 564.50,79.50 C566.23,82.42 568.73,86.83 570.40,90.00 C572.07,93.17 573.32,95.35 574.50,98.50 C575.68,101.65 576.48,103.98 577.50,108.90 C578.52,113.82 579.97,121.98 580.60,128.00 C581.23,134.02 581.10,139.95 581.30,145.00 C581.50,150.05 581.63,158.30 581.80,158.30 C581.97,158.30 582.10,150.05 582.30,145.00 C582.50,139.95 582.63,133.00 583.00,128.00 C583.37,123.00 583.97,118.70 584.50,115.00 C585.03,111.30 585.28,108.80 586.20,105.80 C587.12,102.80 588.70,99.10 590.00,97.00 C591.30,94.90 592.57,94.37 594.00,93.20 C595.43,92.03 597.83,90.53 598.60,90.00" stroke="#8c60a8" stroke-width="1.00"/>
<path d="M382.50,57.30 C383.92,58.25 388.02,60.97 391.00,63.00 C393.98,65.03 397.73,67.50 400.40,69.50 C403.07,71.50 404.82,73.00 407.00,75.00 C409.18,77.00 411.75,79.67 413.50,81.50 C415.25,83.33 416.33,84.42 417.50,86.00 C418.67,87.58 419.62,89.00 420.50,91.00 C421.38,93.00 422.12,95.28 422.80,98.00 C423.48,100.72 423.97,103.97 424.60,107.30 C425.23,110.63 426.08,114.55 426.60,118.00 C427.12,121.45 427.45,123.50 427.70,128.00 C427.95,132.50 427.97,138.23 428.10,145.00 C428.23,151.77 428.32,168.60 428.50,168.60 C428.68,168.60 428.80,151.77 429.20,145.00 C429.60,138.23 430.27,133.67 430.90,128.00 C431.53,122.33 432.22,115.75 433.00,111.00 C433.78,106.25 434.90,103.00 435.60,99.50 C436.30,96.00 436.30,92.75 437.20,90.00 C438.10,87.25 439.47,85.92 441.00,83.00 C442.53,80.08 444.40,75.75 446.40,72.50 C448.40,69.25 450.73,66.25 453.00,63.50 C455.27,60.75 457.70,58.35 460.00,56.00 C462.30,53.65 464.82,51.15 466.80,49.40 C468.78,47.65 469.58,47.28 471.90,45.50 C474.22,43.72 477.68,40.82 480.70,38.70 C483.72,36.58 487.62,34.25 490.00,32.80 C492.38,31.35 493.33,30.72 495.00,30.00 C496.67,29.28 498.00,28.53 500.00,28.50 C502.00,28.47 504.83,29.05 507.00,29.80 C509.17,30.55 510.83,31.58 513.00,33.00 C515.17,34.42 517.80,36.57 520.00,38.30 C522.20,40.03 524.15,41.65 526.20,43.40 C528.25,45.15 530.98,47.62 532.30,48.80 C533.62,49.98 532.77,49.30 534.10,50.50 C535.43,51.70 538.48,54.25 540.30,56.00 C542.12,57.75 543.38,59.07 545.00,61.00 C546.62,62.93 548.33,65.35 550.00,67.60 C551.67,69.85 553.42,72.18 555.00,74.50 C556.58,76.82 558.08,79.00 559.50,81.50 C560.92,84.00 562.33,86.83 563.50,89.50 C564.67,92.17 565.62,94.75 566.50,97.50 C567.38,100.25 568.13,102.58 568.80,106.00 C569.47,109.42 570.10,114.33 570.50,118.00 C570.90,121.67 571.02,123.50 571.20,128.00 C571.38,132.50 571.47,138.90 571.60,145.00 C571.73,151.10 571.85,164.60 572.00,164.60 C572.15,164.60 572.23,151.10 572.50,145.00 C572.77,138.90 573.15,132.83 573.60,128.00 C574.05,123.17 574.67,119.33 575.20,116.00 C575.73,112.67 576.08,111.00 576.80,108.00 C577.52,105.00 578.30,101.25 579.50,98.00 C580.70,94.75 582.25,91.37 584.00,88.50 C585.75,85.63 588.33,82.63 590.00,80.80 C591.67,78.97 592.57,78.62 594.00,77.50 C595.43,76.38 597.83,74.67 598.60,74.10" stroke="#7670b0" stroke-width="1.00"/>
<path d="M382.50,48.10 C383.47,48.75 385.32,49.97 388.30,52.00 C391.28,54.03 397.52,58.20 400.40,60.30 C403.28,62.40 403.67,62.98 405.60,64.60 C407.53,66.22 409.85,68.10 412.00,70.00 C414.15,71.90 416.83,73.93 418.50,76.00 C420.17,78.07 420.58,80.07 422.00,82.40 C423.42,84.73 425.58,87.40 427.00,90.00 C428.42,92.60 429.60,95.37 430.50,98.00 C431.40,100.63 431.68,100.80 432.40,105.80 C433.12,110.80 434.33,121.47 434.80,128.00 C435.27,134.53 435.07,138.45 435.20,145.00 C435.33,151.55 435.47,167.30 435.60,167.30 C435.73,167.30 435.87,151.55 436.00,145.00 C436.13,138.45 436.07,133.17 436.40,128.00 C436.73,122.83 437.35,118.75 438.00,114.00 C438.65,109.25 439.38,103.50 440.30,99.50 C441.22,95.50 442.38,92.92 443.50,90.00 C444.62,87.08 445.83,84.42 447.00,82.00 C448.17,79.58 448.98,77.75 450.50,75.50 C452.02,73.25 454.18,70.75 456.10,68.50 C458.02,66.25 459.92,64.08 462.00,62.00 C464.08,59.92 466.93,57.58 468.60,56.00 C470.27,54.42 470.77,53.70 472.00,52.50 C473.23,51.30 474.70,49.92 476.00,48.80 C477.30,47.68 478.30,47.07 479.80,45.80 C481.30,44.53 483.30,42.72 485.00,41.20 C486.70,39.68 488.50,38.15 490.00,36.70 C491.50,35.25 492.78,33.65 494.00,32.50 C495.22,31.35 496.35,30.38 497.30,29.80 C498.25,29.22 498.92,29.03 499.70,29.00 C500.48,28.97 501.12,29.18 502.00,29.60 C502.88,30.02 503.67,30.35 505.00,31.50 C506.33,32.65 508.33,34.92 510.00,36.50 C511.67,38.08 513.33,39.52 515.00,41.00 C516.67,42.48 518.50,43.98 520.00,45.40 C521.50,46.82 522.57,47.82 524.00,49.50 C525.43,51.18 527.10,53.50 528.60,55.50 C530.10,57.50 531.68,59.58 533.00,61.50 C534.32,63.42 535.33,65.00 536.50,67.00 C537.67,69.00 538.83,71.25 540.00,73.50 C541.17,75.75 542.37,78.17 543.50,80.50 C544.63,82.83 545.80,85.00 546.80,87.50 C547.80,90.00 548.70,92.42 549.50,95.50 C550.30,98.58 550.98,103.08 551.60,106.00 C552.22,108.92 552.63,109.33 553.20,113.00 C553.77,116.67 554.62,122.67 555.00,128.00 C555.38,133.33 555.35,139.68 555.50,145.00 C555.65,150.32 555.77,159.90 555.90,159.90 C556.03,159.90 556.12,150.32 556.30,145.00 C556.48,139.68 556.58,133.33 557.00,128.00 C557.42,122.67 558.18,116.67 558.80,113.00 C559.42,109.33 559.92,108.67 560.70,106.00 C561.48,103.33 562.45,99.92 563.50,97.00 C564.55,94.08 565.70,91.48 567.00,88.50 C568.30,85.52 569.68,81.65 571.30,79.10 C572.92,76.55 574.58,74.97 576.70,73.20 C578.82,71.43 581.78,69.70 584.00,68.50 C586.22,67.30 587.57,67.17 590.00,66.00 C592.43,64.83 597.17,62.25 598.60,61.50" stroke="#70a4d0" stroke-width="1.00"/>
<path d="M382.50,37.30 C383.65,37.78 386.85,39.08 389.40,40.20 C391.95,41.32 395.20,42.77 397.80,44.00 C400.40,45.23 402.63,46.47 405.00,47.60 C407.37,48.73 409.50,49.52 412.00,50.80 C414.50,52.08 417.35,53.82 420.00,55.30 C422.65,56.78 425.67,58.27 427.90,59.70 C430.13,61.13 431.78,62.18 433.40,63.90 C435.02,65.62 436.18,67.73 437.60,70.00 C439.02,72.27 440.50,75.17 441.90,77.50 C443.30,79.83 444.68,81.92 446.00,84.00 C447.32,86.08 448.63,87.33 449.80,90.00 C450.97,92.67 451.95,96.07 453.00,100.00 C454.05,103.93 455.33,108.93 456.10,113.60 C456.87,118.27 457.30,123.60 457.60,128.00 C457.90,132.40 457.82,134.95 457.90,140.00 C457.98,145.05 457.98,158.30 458.10,158.30 C458.22,158.30 458.40,145.05 458.60,140.00 C458.80,134.95 458.93,132.33 459.30,128.00 C459.67,123.67 460.28,118.23 460.80,114.00 C461.32,109.77 461.48,106.60 462.40,102.60 C463.32,98.60 464.87,93.43 466.30,90.00 C467.73,86.57 469.55,84.50 471.00,82.00 C472.45,79.50 473.50,77.33 475.00,75.00 C476.50,72.67 478.22,70.50 480.00,68.00 C481.78,65.50 484.07,62.53 485.70,60.00 C487.33,57.47 488.50,55.30 489.80,52.80 C491.10,50.30 492.38,47.63 493.50,45.00 C494.62,42.37 495.70,39.08 496.50,37.00 C497.30,34.92 497.77,33.60 498.30,32.50 C498.83,31.40 499.22,30.57 499.70,30.40 C500.18,30.23 500.65,30.65 501.20,31.50 C501.75,32.35 502.28,33.83 503.00,35.50 C503.72,37.17 504.55,39.43 505.50,41.50 C506.45,43.57 507.70,45.90 508.70,47.90 C509.70,49.90 510.55,51.48 511.50,53.50 C512.45,55.52 513.32,57.75 514.40,60.00 C515.48,62.25 516.80,64.50 518.00,67.00 C519.20,69.50 520.43,72.50 521.60,75.00 C522.77,77.50 523.97,79.78 525.00,82.00 C526.03,84.22 526.88,85.97 527.80,88.30 C528.72,90.63 529.72,93.05 530.50,96.00 C531.28,98.95 531.98,103.00 532.50,106.00 C533.02,109.00 533.27,110.33 533.60,114.00 C533.93,117.67 534.28,121.67 534.50,128.00 C534.72,134.33 534.75,152.00 534.90,152.00 C535.05,152.00 535.15,133.33 535.40,128.00 C535.65,122.67 535.82,123.70 536.40,120.00 C536.98,116.30 538.17,109.63 538.90,105.80 C539.63,101.97 540.18,99.63 540.80,97.00 C541.42,94.37 541.82,92.17 542.60,90.00 C543.38,87.83 544.43,85.92 545.50,84.00 C546.57,82.08 547.85,80.07 549.00,78.50 C550.15,76.93 551.23,75.98 552.40,74.60 C553.57,73.22 554.63,71.57 556.00,70.20 C557.37,68.83 559.18,67.57 560.60,66.40 C562.02,65.23 563.13,64.15 564.50,63.20 C565.87,62.25 567.55,61.43 568.80,60.70 C570.05,59.97 570.80,59.48 572.00,58.80 C573.20,58.12 574.50,57.32 576.00,56.60 C577.50,55.88 579.25,55.22 581.00,54.50 C582.75,53.78 584.62,53.02 586.50,52.30 C588.38,51.58 590.28,50.82 592.30,50.20 C594.32,49.58 597.55,48.87 598.60,48.60" stroke="#80bc58" stroke-width="1.00"/>
<path d="M382.50,35.00 C385.05,35.67 392.63,37.00 397.80,39.00 C402.97,41.00 408.52,44.17 413.50,47.00 C418.48,49.83 423.95,53.53 427.70,56.00 C431.45,58.47 433.12,59.75 436.00,61.80 C438.88,63.85 442.17,65.77 445.00,68.30 C447.83,70.83 450.37,73.38 453.00,77.00 C455.63,80.62 458.88,86.33 460.80,90.00 C462.72,93.67 463.45,95.85 464.50,99.00 C465.55,102.15 466.15,105.40 467.10,108.90 C468.05,112.40 469.53,116.82 470.20,120.00 C470.87,123.18 470.92,123.83 471.10,128.00 C471.28,132.17 471.23,139.73 471.30,145.00 C471.37,150.27 471.40,159.60 471.50,159.60 C471.60,159.60 471.73,149.10 471.90,145.00 C472.07,140.90 472.25,137.83 472.50,135.00 C472.75,132.17 472.72,132.87 473.40,128.00 C474.08,123.13 475.28,112.13 476.60,105.80 C477.92,99.47 479.73,94.57 481.30,90.00 C482.87,85.43 484.55,81.98 486.00,78.40 C487.45,74.82 488.67,71.57 490.00,68.50 C491.33,65.43 492.93,63.72 494.00,60.00 C495.07,56.28 495.62,49.95 496.40,46.20 C497.18,42.45 498.02,39.47 498.70,37.50 C499.38,35.53 499.88,34.40 500.50,34.40 C501.12,34.40 501.72,35.53 502.40,37.50 C503.08,39.47 504.03,43.78 504.60,46.20 C505.17,48.62 505.40,49.70 505.80,52.00 C506.20,54.30 506.47,57.67 507.00,60.00 C507.53,62.33 508.27,63.50 509.00,66.00 C509.73,68.50 510.65,72.33 511.40,75.00 C512.15,77.67 512.87,79.78 513.50,82.00 C514.13,84.22 514.55,86.13 515.20,88.30 C515.85,90.47 516.48,91.30 517.40,95.00 C518.32,98.70 519.88,105.00 520.70,110.50 C521.52,116.00 522.00,122.25 522.30,128.00 C522.60,133.75 522.45,138.12 522.50,145.00 C522.55,151.88 522.55,169.30 522.60,169.30 C522.65,169.30 522.68,150.72 522.80,145.00 C522.92,139.28 523.12,137.83 523.30,135.00 C523.48,132.17 523.57,131.67 523.90,128.00 C524.23,124.33 524.78,117.23 525.30,113.00 C525.82,108.77 526.30,105.60 527.00,102.60 C527.70,99.60 528.67,97.10 529.50,95.00 C530.33,92.90 530.92,92.17 532.00,90.00 C533.08,87.83 534.50,84.33 536.00,82.00 C537.50,79.67 539.33,77.92 541.00,76.00 C542.67,74.08 544.42,72.10 546.00,70.50 C547.58,68.90 548.83,67.82 550.50,66.40 C552.17,64.98 553.92,63.35 556.00,62.00 C558.08,60.65 560.67,59.47 563.00,58.30 C565.33,57.13 567.83,55.97 570.00,55.00 C572.17,54.03 574.33,53.20 576.00,52.50 C577.67,51.80 577.80,51.80 580.00,50.80 C582.20,49.80 586.10,47.73 589.20,46.50 C592.30,45.27 597.03,43.92 598.60,43.40" stroke="#eadc6c" stroke-width="1.00"/>
<path d="M382.50,34.60 C385.05,35.15 392.63,36.07 397.80,37.90 C402.97,39.73 408.52,42.83 413.50,45.60 C418.48,48.37 423.95,52.10 427.70,54.50 C431.45,56.90 432.88,58.05 436.00,60.00 C439.12,61.95 442.73,63.62 446.40,66.20 C450.07,68.78 454.28,71.53 458.00,75.50 C461.72,79.47 466.20,86.25 468.70,90.00 C471.20,93.75 471.68,95.12 473.00,98.00 C474.32,100.88 475.52,103.97 476.60,107.30 C477.68,110.63 478.72,114.55 479.50,118.00 C480.28,121.45 480.92,123.50 481.30,128.00 C481.68,132.50 481.67,136.93 481.80,145.00 C481.93,153.07 481.97,175.57 482.10,176.40 C482.23,177.23 482.37,156.90 482.60,150.00 C482.83,143.10 483.18,138.67 483.50,135.00 C483.82,131.33 483.83,131.00 484.50,128.00 C485.17,125.00 486.58,120.45 487.50,117.00 C488.42,113.55 489.15,112.80 490.00,107.30 C490.85,101.80 491.90,91.22 492.60,84.00 C493.30,76.78 493.82,68.67 494.20,64.00 C494.58,59.33 494.63,58.33 494.90,56.00 C495.17,53.67 495.55,51.22 495.80,50.00 C496.05,48.78 496.20,48.70 496.40,48.70 C496.60,48.70 496.78,48.78 497.00,50.00 C497.22,51.22 497.43,53.33 497.70,56.00 C497.97,58.67 498.22,61.33 498.60,66.00 C498.98,70.67 499.47,79.67 500.00,84.00 C500.53,88.33 501.08,88.83 501.80,92.00 C502.52,95.17 503.63,99.40 504.30,103.00 C504.97,106.60 505.45,109.43 505.80,113.60 C506.15,117.77 506.28,123.60 506.40,128.00 C506.52,132.40 506.47,135.08 506.50,140.00 C506.53,144.92 506.53,157.50 506.60,157.50 C506.67,157.50 506.77,144.25 506.90,140.00 C507.03,135.75 507.20,134.00 507.40,132.00 C507.60,130.00 507.67,131.00 508.10,128.00 C508.53,125.00 509.33,118.23 510.00,114.00 C510.67,109.77 510.97,106.47 512.10,102.60 C513.23,98.73 515.15,93.98 516.80,90.80 C518.45,87.62 519.80,85.88 522.00,83.50 C524.20,81.12 527.45,78.58 530.00,76.50 C532.55,74.42 534.80,72.92 537.30,71.00 C539.80,69.08 541.82,67.08 545.00,65.00 C548.18,62.92 552.68,60.42 556.40,58.50 C560.12,56.58 564.20,55.00 567.30,53.50 C570.40,52.00 572.38,50.83 575.00,49.50 C577.62,48.17 580.50,46.58 583.00,45.50 C585.50,44.42 587.40,43.72 590.00,43.00 C592.60,42.28 597.17,41.50 598.60,41.20" stroke="#e89050" stroke-width="1.00"/>
<path d="M382.50,34.30 C385.05,34.70 392.63,35.15 397.80,36.70 C402.97,38.25 408.52,41.12 413.50,43.60 C418.48,46.08 422.97,48.67 427.70,51.60 C432.43,54.53 437.70,58.25 441.90,61.20 C446.10,64.15 448.95,66.37 452.90,69.30 C456.85,72.23 461.92,75.35 465.60,78.80 C469.28,82.25 472.43,86.80 475.00,90.00 C477.57,93.20 479.17,94.58 481.00,98.00 C482.83,101.42 484.75,107.17 486.00,110.50 C487.25,113.83 487.87,115.58 488.50,118.00 C489.13,120.42 489.50,122.17 489.80,125.00 C490.10,127.83 490.13,128.67 490.30,135.00 C490.47,141.33 490.65,163.00 490.80,163.00 C490.95,163.00 491.07,140.83 491.20,135.00 C491.33,129.17 491.27,131.57 491.60,128.00 C491.93,124.43 492.70,118.77 493.20,113.60 C493.70,108.43 494.20,102.27 494.60,97.00 C495.00,91.73 495.25,86.73 495.60,82.00 C495.95,77.27 496.35,68.60 496.70,68.60 C497.05,68.60 497.37,78.10 497.70,82.00 C498.03,85.90 498.28,87.67 498.70,92.00 C499.12,96.33 499.78,103.33 500.20,108.00 C500.62,112.67 500.98,115.50 501.20,120.00 C501.42,124.50 501.40,129.13 501.50,135.00 C501.60,140.87 501.68,155.20 501.80,155.20 C501.92,155.20 502.00,139.20 502.20,135.00 C502.40,130.80 502.67,131.50 503.00,130.00 C503.33,128.50 503.62,128.50 504.20,126.00 C504.78,123.50 505.72,118.37 506.50,115.00 C507.28,111.63 507.82,108.80 508.90,105.80 C509.98,102.80 511.55,99.63 513.00,97.00 C514.45,94.37 516.10,92.17 517.60,90.00 C519.10,87.83 519.93,86.25 522.00,84.00 C524.07,81.75 527.45,78.75 530.00,76.50 C532.55,74.25 534.63,72.67 537.30,70.50 C539.97,68.33 542.82,65.72 546.00,63.50 C549.18,61.28 553.57,58.87 556.40,57.20 C559.23,55.53 560.57,54.78 563.00,53.50 C565.43,52.22 568.67,50.75 571.00,49.50 C573.33,48.25 575.00,47.08 577.00,46.00 C579.00,44.92 580.83,43.92 583.00,43.00 C585.17,42.08 587.40,41.20 590.00,40.50 C592.60,39.80 597.17,39.08 598.60,38.80" stroke="#e06464" stroke-width="1.00"/>
</g>
<rect x="37.90" y="14.70" width="215.50" height="174.50" fill="none" stroke="#6e6767" stroke-width="1.1"/>
<rect x="382.40" y="14.70" width="216.00" height="174.50" fill="none" stroke="#6e6767" stroke-width="1.1"/>
<g stroke="#3d3535" stroke-width="1.0">
<line x1="37.90" y1="28.40" x2="41.90" y2="28.40"/>
<line x1="37.90" y1="71.80" x2="41.90" y2="71.80"/>
<line x1="37.90" y1="114.20" x2="41.90" y2="114.20"/>
<line x1="37.90" y1="157.30" x2="41.90" y2="157.30"/>
<line x1="37.90" y1="50.50" x2="40.90" y2="50.50"/>
<line x1="37.90" y1="93.50" x2="40.90" y2="93.50"/>
<line x1="37.90" y1="135.75" x2="40.90" y2="135.75"/>
<line x1="37.90" y1="178.40" x2="40.90" y2="178.40"/>
<line x1="155.59" y1="189.20" x2="155.59" y2="185.20"/>
<line x1="234.03" y1="189.20" x2="234.03" y2="185.20"/>
<line x1="194.81" y1="189.20" x2="194.81" y2="186.20"/>
</g>
<g stroke="#7a7474" stroke-width="1.1">
<line x1="382.50" y1="24.40" x2="386.50" y2="24.40"/>
<line x1="382.50" y1="71.70" x2="386.50" y2="71.70"/>
<line x1="382.50" y1="118.90" x2="386.50" y2="118.90"/>
<line x1="382.50" y1="165.50" x2="386.50" y2="165.50"/>
<line x1="382.50" y1="48.20" x2="385.50" y2="48.20"/>
<line x1="382.50" y1="95.30" x2="385.50" y2="95.30"/>
<line x1="382.50" y1="141.90" x2="385.50" y2="141.90"/>
<line x1="417.80" y1="189.00" x2="417.80" y2="185.00"/>
<line x1="504.20" y1="189.00" x2="504.20" y2="185.00"/>
<line x1="590.60" y1="189.00" x2="590.60" y2="185.00"/>
<line x1="461.00" y1="189.00" x2="461.00" y2="186.00"/>
<line x1="547.40" y1="189.00" x2="547.40" y2="186.00"/>
</g>
<text x="35.50" y="8.60" font-size="12.80" text-anchor="start" textLength="222.00" lengthAdjust="spacingAndGlyphs">Bandwidth tuning range: 68.6 MHz–2.41 GHz</text>
<text x="375.90" y="8.80" font-size="12.80" text-anchor="start" textLength="225.00" lengthAdjust="spacingAndGlyphs">Bandwidth tuning range: 1.41 GHz–81.09 GHz</text>
<text x="32.80" y="32.40" font-size="12.60" text-anchor="end" textLength="5.76" lengthAdjust="spacingAndGlyphs">0</text>
<text x="32.80" y="75.80" font-size="12.60" text-anchor="end" textLength="18.03" lengthAdjust="spacingAndGlyphs">−20</text>
<text x="32.80" y="118.20" font-size="12.60" text-anchor="end" textLength="18.03" lengthAdjust="spacingAndGlyphs">−40</text>
<text x="32.80" y="161.30" font-size="12.60" text-anchor="end" textLength="18.03" lengthAdjust="spacingAndGlyphs">−60</text>
<text x="377.20" y="28.90" font-size="12.60" text-anchor="end" textLength="5.76" lengthAdjust="spacingAndGlyphs">0</text>
<text x="376.20" y="75.70" font-size="12.60" text-anchor="end" textLength="18.03" lengthAdjust="spacingAndGlyphs">−20</text>
<text x="376.20" y="122.90" font-size="12.60" text-anchor="end" textLength="18.03" lengthAdjust="spacingAndGlyphs">−40</text>
<text x="376.20" y="169.50" font-size="12.60" text-anchor="end" textLength="18.03" lengthAdjust="spacingAndGlyphs">−60</text>
<text x="77.55" y="203.80" font-size="12.60" text-anchor="middle" textLength="37.63" lengthAdjust="spacingAndGlyphs">1549.69</text>
<text x="155.99" y="203.80" font-size="12.60" text-anchor="middle" textLength="37.63" lengthAdjust="spacingAndGlyphs">1549.73</text>
<text x="234.93" y="203.80" font-size="12.60" text-anchor="middle" textLength="37.63" lengthAdjust="spacingAndGlyphs">1549.77</text>
<text x="417.80" y="203.80" font-size="12.60" text-anchor="middle" textLength="23.28" lengthAdjust="spacingAndGlyphs">1549</text>
<text x="504.20" y="203.80" font-size="12.60" text-anchor="middle" textLength="23.28" lengthAdjust="spacingAndGlyphs">1550</text>
<text x="590.60" y="203.80" font-size="12.60" text-anchor="middle" textLength="23.28" lengthAdjust="spacingAndGlyphs">1551</text>
<text x="156.10" y="218.20" font-size="12.00" text-anchor="middle" textLength="82.80" lengthAdjust="spacingAndGlyphs">Wavelength (nm)</text>
<text x="500.20" y="218.00" font-size="12.00" text-anchor="middle" textLength="83.20" lengthAdjust="spacingAndGlyphs">Wavelength (nm)</text>
<text transform="translate(8.2,101.0) rotate(-90)" x="0" y="0" font-size="12.00" text-anchor="middle" textLength="86.5" lengthAdjust="spacingAndGlyphs">Transmission (dB)</text>
<text transform="translate(349.2,101.4) rotate(-90)" x="0" y="0" font-size="12.00" text-anchor="middle" textLength="86.5" lengthAdjust="spacingAndGlyphs">Transmission (dB)</text>
<text x="162.30" y="241.00" font-size="11.80" text-anchor="middle">(a)</text>
<text x="506.50" y="237.00" font-size="11.80" text-anchor="middle">(b)</text>
<text x="258.40" y="46.80" font-size="12.00" text-anchor="start" textLength="55.00" lengthAdjust="spacingAndGlyphs">Bandwidth:</text>
<line x1="257.2" y1="58.60" x2="281.8" y2="58.60" stroke="#9e1c24" stroke-width="1.3"/>
<text x="286.70" y="62.10" font-size="12.00" text-anchor="start" textLength="38.01" lengthAdjust="spacingAndGlyphs">0.55 pm</text>
<line x1="257.2" y1="71.97" x2="281.8" y2="71.97" stroke="#e26a6a" stroke-width="1.3"/>
<text x="286.70" y="75.47" font-size="12.00" text-anchor="start" textLength="38.01" lengthAdjust="spacingAndGlyphs">0.77 pm</text>
<line x1="257.2" y1="85.34" x2="281.8" y2="85.34" stroke="#e88a50" stroke-width="1.3"/>
<text x="286.70" y="88.84" font-size="12.00" text-anchor="start" textLength="38.01" lengthAdjust="spacingAndGlyphs">0.98 pm</text>
<line x1="257.2" y1="98.71" x2="281.8" y2="98.71" stroke="#ece070" stroke-width="1.3"/>
<text x="286.70" y="102.21" font-size="12.00" text-anchor="start" textLength="38.01" lengthAdjust="spacingAndGlyphs">1.71 pm</text>
<line x1="257.2" y1="112.08" x2="281.8" y2="112.08" stroke="#8cc46c" stroke-width="1.3"/>
<text x="286.70" y="115.58" font-size="12.00" text-anchor="start" textLength="38.01" lengthAdjust="spacingAndGlyphs">2.63 pm</text>
<line x1="257.2" y1="125.45" x2="281.8" y2="125.45" stroke="#3a9c48" stroke-width="1.3"/>
<text x="286.70" y="128.95" font-size="12.00" text-anchor="start" textLength="38.01" lengthAdjust="spacingAndGlyphs">4.00 pm</text>
<line x1="257.2" y1="138.82" x2="281.8" y2="138.82" stroke="#4a74b0" stroke-width="1.6"/>
<text x="286.70" y="142.32" font-size="12.00" text-anchor="start" textLength="38.01" lengthAdjust="spacingAndGlyphs">6.22 pm</text>
<line x1="257.2" y1="152.19" x2="281.8" y2="152.19" stroke="#70a0d0" stroke-width="1.3"/>
<text x="286.70" y="155.69" font-size="12.00" text-anchor="start" textLength="38.01" lengthAdjust="spacingAndGlyphs">8.99 pm</text>
<line x1="257.2" y1="165.56" x2="281.8" y2="165.56" stroke="#5a50a0" stroke-width="1.3"/>
<text x="286.70" y="169.06" font-size="12.00" text-anchor="start" textLength="43.80" lengthAdjust="spacingAndGlyphs">13.48 pm</text>
<line x1="257.2" y1="178.93" x2="281.8" y2="178.93" stroke="#6a68aa" stroke-width="1.3"/>
<text x="286.70" y="182.43" font-size="12.00" text-anchor="start" textLength="43.80" lengthAdjust="spacingAndGlyphs">19.28 pm</text>
<text x="604.00" y="46.80" font-size="12.00" text-anchor="start" textLength="54.50" lengthAdjust="spacingAndGlyphs">Bandwidth:</text>
<line x1="606.6" y1="58.60" x2="630.4" y2="58.60" stroke="#e06464" stroke-width="1.3"/>
<text x="634.00" y="62.10" font-size="12.00" text-anchor="start" textLength="43.36" lengthAdjust="spacingAndGlyphs">11.25 pm</text>
<line x1="606.6" y1="73.22" x2="630.4" y2="73.22" stroke="#e89050" stroke-width="1.3"/>
<text x="634.00" y="76.72" font-size="12.00" text-anchor="start" textLength="43.80" lengthAdjust="spacingAndGlyphs">21.79 pm</text>
<line x1="606.6" y1="87.84" x2="630.4" y2="87.84" stroke="#eadc6c" stroke-width="1.3"/>
<text x="634.00" y="91.34" font-size="12.00" text-anchor="start" textLength="43.80" lengthAdjust="spacingAndGlyphs">47.65 pm</text>
<line x1="606.6" y1="102.46" x2="630.4" y2="102.46" stroke="#80bc58" stroke-width="1.3"/>
<text x="634.00" y="105.96" font-size="12.00" text-anchor="start" textLength="43.80" lengthAdjust="spacingAndGlyphs">90.47 pm</text>
<line x1="606.6" y1="117.08" x2="630.4" y2="117.08" stroke="#70a4d0" stroke-width="1.3"/>
<text x="634.00" y="120.58" font-size="12.00" text-anchor="start" textLength="49.16" lengthAdjust="spacingAndGlyphs">118.72 pm</text>
<line x1="606.6" y1="131.70" x2="630.4" y2="131.70" stroke="#7670b0" stroke-width="1.6"/>
<text x="634.00" y="135.20" font-size="12.00" text-anchor="start" textLength="49.60" lengthAdjust="spacingAndGlyphs">348.69 pm</text>
<line x1="606.6" y1="146.32" x2="630.4" y2="146.32" stroke="#8c60a8" stroke-width="1.3"/>
<text x="634.00" y="149.82" font-size="12.00" text-anchor="start" textLength="49.60" lengthAdjust="spacingAndGlyphs">498.31 pm</text>
<line x1="606.6" y1="160.94" x2="630.4" y2="160.94" stroke="#7c58a4" stroke-width="1.6"/>
<text x="634.00" y="164.44" font-size="12.00" text-anchor="start" textLength="49.60" lengthAdjust="spacingAndGlyphs">648.72 pm</text>
</svg></body></html>
